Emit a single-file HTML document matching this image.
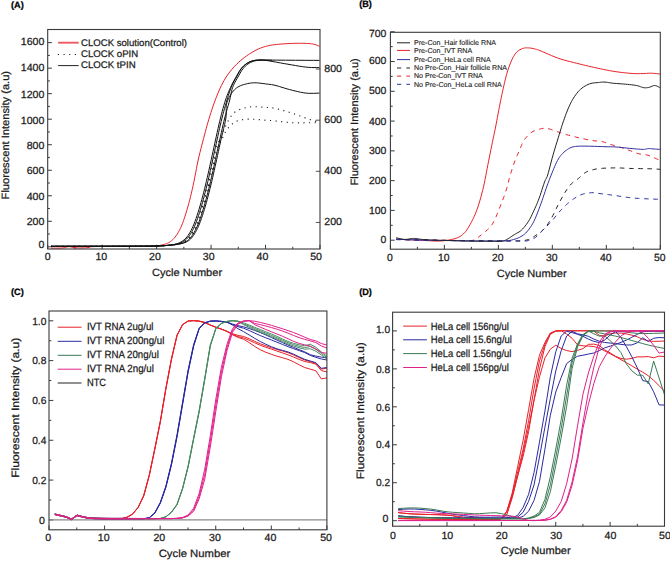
<!DOCTYPE html>
<html><head><meta charset="utf-8"><style>
html,body{margin:0;padding:0;background:#fff;width:670px;height:561px;overflow:hidden}
svg{display:block}
text{text-rendering:geometricPrecision;font-family:"Liberation Sans", sans-serif;stroke:#222;stroke-width:0.25px;paint-order:stroke}
</style></head><body>
<svg width="670" height="561" viewBox="0 0 670 561">
<rect width="670" height="561" fill="#fff"/>
<text x="11.0" y="7.6" font-size="9.2" text-anchor="start" font-weight="bold" fill="#000" textLength="12.8" lengthAdjust="spacingAndGlyphs">(A)</text>
<line x1="47.7" y1="246.8" x2="51.900000000000006" y2="246.8" stroke="#3a3a3a" stroke-width="1"/>
<text x="44.4" y="247.8" font-size="10.4" text-anchor="end" font-weight="normal" fill="#1a1a1a" textLength="5.9" lengthAdjust="spacingAndGlyphs">0</text>
<line x1="47.7" y1="221.28" x2="51.900000000000006" y2="221.28" stroke="#3a3a3a" stroke-width="1"/>
<text x="44.4" y="224.6" font-size="10.4" text-anchor="end" font-weight="normal" fill="#1a1a1a" textLength="17.700000000000003" lengthAdjust="spacingAndGlyphs">200</text>
<line x1="47.7" y1="195.76000000000002" x2="51.900000000000006" y2="195.76000000000002" stroke="#3a3a3a" stroke-width="1"/>
<text x="44.4" y="199.8" font-size="10.4" text-anchor="end" font-weight="normal" fill="#1a1a1a" textLength="17.700000000000003" lengthAdjust="spacingAndGlyphs">400</text>
<line x1="47.7" y1="170.24" x2="51.900000000000006" y2="170.24" stroke="#3a3a3a" stroke-width="1"/>
<text x="44.4" y="173.9" font-size="10.4" text-anchor="end" font-weight="normal" fill="#1a1a1a" textLength="17.700000000000003" lengthAdjust="spacingAndGlyphs">600</text>
<line x1="47.7" y1="144.72000000000003" x2="51.900000000000006" y2="144.72000000000003" stroke="#3a3a3a" stroke-width="1"/>
<text x="44.4" y="148.5" font-size="10.4" text-anchor="end" font-weight="normal" fill="#1a1a1a" textLength="17.700000000000003" lengthAdjust="spacingAndGlyphs">800</text>
<line x1="47.7" y1="119.20000000000002" x2="51.900000000000006" y2="119.20000000000002" stroke="#3a3a3a" stroke-width="1"/>
<text x="44.4" y="123.5" font-size="10.4" text-anchor="end" font-weight="normal" fill="#1a1a1a" textLength="23.6" lengthAdjust="spacingAndGlyphs">1000</text>
<line x1="47.7" y1="93.68000000000004" x2="51.900000000000006" y2="93.68000000000004" stroke="#3a3a3a" stroke-width="1"/>
<text x="44.4" y="97.8" font-size="10.4" text-anchor="end" font-weight="normal" fill="#1a1a1a" textLength="23.6" lengthAdjust="spacingAndGlyphs">1200</text>
<line x1="47.7" y1="68.16000000000003" x2="51.900000000000006" y2="68.16000000000003" stroke="#3a3a3a" stroke-width="1"/>
<text x="44.4" y="71.2" font-size="10.4" text-anchor="end" font-weight="normal" fill="#1a1a1a" textLength="23.6" lengthAdjust="spacingAndGlyphs">1400</text>
<line x1="47.7" y1="42.640000000000015" x2="51.900000000000006" y2="42.640000000000015" stroke="#3a3a3a" stroke-width="1"/>
<text x="44.4" y="44.9" font-size="10.4" text-anchor="end" font-weight="normal" fill="#1a1a1a" textLength="23.6" lengthAdjust="spacingAndGlyphs">1600</text>
<line x1="47.7" y1="234.04000000000002" x2="49.900000000000006" y2="234.04000000000002" stroke="#3a3a3a" stroke-width="1"/>
<line x1="47.7" y1="208.52" x2="49.900000000000006" y2="208.52" stroke="#3a3a3a" stroke-width="1"/>
<line x1="47.7" y1="183.0" x2="49.900000000000006" y2="183.0" stroke="#3a3a3a" stroke-width="1"/>
<line x1="47.7" y1="157.48000000000002" x2="49.900000000000006" y2="157.48000000000002" stroke="#3a3a3a" stroke-width="1"/>
<line x1="47.7" y1="131.96000000000004" x2="49.900000000000006" y2="131.96000000000004" stroke="#3a3a3a" stroke-width="1"/>
<line x1="47.7" y1="106.44000000000003" x2="49.900000000000006" y2="106.44000000000003" stroke="#3a3a3a" stroke-width="1"/>
<line x1="47.7" y1="80.92000000000002" x2="49.900000000000006" y2="80.92000000000002" stroke="#3a3a3a" stroke-width="1"/>
<line x1="47.7" y1="55.400000000000034" x2="49.900000000000006" y2="55.400000000000034" stroke="#3a3a3a" stroke-width="1"/>
<line x1="47.7" y1="249.0" x2="47.7" y2="244.8" stroke="#3a3a3a" stroke-width="1"/>
<text x="47.6" y="259.9" font-size="10.4" text-anchor="middle" font-weight="normal" fill="#1a1a1a" textLength="5.9" lengthAdjust="spacingAndGlyphs">0</text>
<line x1="102.16" y1="249.0" x2="102.16" y2="244.8" stroke="#3a3a3a" stroke-width="1"/>
<text x="101.30000000000001" y="259.9" font-size="10.4" text-anchor="middle" font-weight="normal" fill="#1a1a1a" textLength="11.8" lengthAdjust="spacingAndGlyphs">10</text>
<line x1="156.62" y1="249.0" x2="156.62" y2="244.8" stroke="#3a3a3a" stroke-width="1"/>
<text x="155.0" y="259.9" font-size="10.4" text-anchor="middle" font-weight="normal" fill="#1a1a1a" textLength="11.8" lengthAdjust="spacingAndGlyphs">20</text>
<line x1="211.07999999999998" y1="249.0" x2="211.07999999999998" y2="244.8" stroke="#3a3a3a" stroke-width="1"/>
<text x="208.7" y="259.9" font-size="10.4" text-anchor="middle" font-weight="normal" fill="#1a1a1a" textLength="11.8" lengthAdjust="spacingAndGlyphs">30</text>
<line x1="265.54" y1="249.0" x2="265.54" y2="244.8" stroke="#3a3a3a" stroke-width="1"/>
<text x="262.40000000000003" y="259.9" font-size="10.4" text-anchor="middle" font-weight="normal" fill="#1a1a1a" textLength="11.8" lengthAdjust="spacingAndGlyphs">40</text>
<line x1="320.0" y1="249.0" x2="320.0" y2="244.8" stroke="#3a3a3a" stroke-width="1"/>
<text x="316.1" y="259.9" font-size="10.4" text-anchor="middle" font-weight="normal" fill="#1a1a1a" textLength="11.8" lengthAdjust="spacingAndGlyphs">50</text>
<line x1="74.93" y1="249.0" x2="74.93" y2="246.8" stroke="#3a3a3a" stroke-width="1"/>
<line x1="129.39" y1="249.0" x2="129.39" y2="246.8" stroke="#3a3a3a" stroke-width="1"/>
<line x1="183.85000000000002" y1="249.0" x2="183.85000000000002" y2="246.8" stroke="#3a3a3a" stroke-width="1"/>
<line x1="238.31" y1="249.0" x2="238.31" y2="246.8" stroke="#3a3a3a" stroke-width="1"/>
<line x1="292.77" y1="249.0" x2="292.77" y2="246.8" stroke="#3a3a3a" stroke-width="1"/>
<line x1="320.0" y1="222.46000000000004" x2="315.8" y2="222.46000000000004" stroke="#555" stroke-width="1"/>
<text x="324.3" y="225.06000000000003" font-size="10.4" text-anchor="start" font-weight="normal" fill="#1a1a1a" textLength="17.7" lengthAdjust="spacingAndGlyphs">200</text>
<line x1="320.0" y1="171.32000000000005" x2="315.8" y2="171.32000000000005" stroke="#555" stroke-width="1"/>
<text x="324.3" y="173.92000000000004" font-size="10.4" text-anchor="start" font-weight="normal" fill="#1a1a1a" textLength="17.7" lengthAdjust="spacingAndGlyphs">400</text>
<line x1="320.0" y1="120.18000000000004" x2="315.8" y2="120.18000000000004" stroke="#555" stroke-width="1"/>
<text x="324.3" y="122.78000000000003" font-size="10.4" text-anchor="start" font-weight="normal" fill="#1a1a1a" textLength="17.7" lengthAdjust="spacingAndGlyphs">600</text>
<line x1="320.0" y1="69.04000000000005" x2="315.8" y2="69.04000000000005" stroke="#555" stroke-width="1"/>
<text x="324.3" y="71.64000000000004" font-size="10.4" text-anchor="start" font-weight="normal" fill="#1a1a1a" textLength="17.7" lengthAdjust="spacingAndGlyphs">800</text>
<text x="152.0" y="276.3" font-size="10.5" text-anchor="start" font-weight="normal" fill="#1a1a1a" textLength="70.1" lengthAdjust="spacingAndGlyphs">Cycle Number</text>
<text x="8.7" y="199.4" font-size="10.6" text-anchor="start" font-weight="normal" fill="#1a1a1a" textLength="128.5" lengthAdjust="spacingAndGlyphs" transform="rotate(-90 8.7 199.4)">Fluorescent Intensity (a.u)</text>
<line x1="58.1" y1="42.7" x2="78.7" y2="42.7" stroke="#ee5a66" stroke-width="1.9"/>
<line x1="57.8" y1="54.5" x2="78.7" y2="54.5" stroke="#222" stroke-width="1.2" stroke-dasharray="1.2 4.47"/>
<line x1="58.1" y1="65.6" x2="78.7" y2="65.6" stroke="#222" stroke-width="1"/>
<text x="81.0" y="45.6" font-size="9.6" text-anchor="start" font-weight="normal" fill="#1a1a1a" textLength="106" lengthAdjust="spacingAndGlyphs">CLOCK solution(Control)</text>
<text x="81.0" y="56.9" font-size="9.6" text-anchor="start" font-weight="normal" fill="#1a1a1a" textLength="57.2" lengthAdjust="spacingAndGlyphs">CLOCK oPIN</text>
<text x="81.0" y="68.1" font-size="9.6" text-anchor="start" font-weight="normal" fill="#1a1a1a" textLength="54.6" lengthAdjust="spacingAndGlyphs">CLOCK tPIN</text>
<path d="M51.00,248.10 L51.77,248.10 L52.85,248.11 L54.12,248.12 L55.48,248.12 L56.81,248.12 L58.00,248.10 L59.07,248.08 L60.11,248.05 L61.12,248.02 L62.11,247.97 L63.07,247.90 L64.00,247.80 L64.88,247.64 L65.70,247.41 L66.50,247.17 L67.30,246.94 L68.12,246.77 L69.00,246.70 L69.93,246.75 L70.89,246.91 L71.88,247.12 L72.89,247.35 L73.93,247.56 L75.00,247.70 L76.11,247.79 L77.26,247.85 L78.44,247.89 L79.63,247.91 L80.82,247.91 L82.00,247.90 L83.19,247.87 L84.41,247.83 L85.62,247.77 L86.81,247.69 L87.95,247.60 L89.00,247.50 L89.47,247.37 L89.30,247.21 L89.06,247.03 L89.37,246.86 L90.82,246.71 L94.00,246.60 L99.69,246.54 L107.56,246.51 L116.56,246.51 L125.67,246.51 L133.83,246.51 L140.00,246.50 L144.04,246.48 L146.74,246.45 L148.50,246.43 L149.70,246.39 L150.74,246.35 L152.00,246.30 L153.36,246.24 L154.48,246.18 L155.44,246.11 L156.30,246.03 L157.13,245.93 L158.00,245.80 L158.89,245.65 L159.72,245.47 L160.53,245.28 L161.33,245.07 L162.15,244.84 L163.00,244.60 L163.88,244.38 L164.76,244.19 L165.66,243.97 L166.57,243.70 L167.52,243.33 L168.50,242.80 L169.53,242.15 L170.60,241.41 L171.69,240.58 L172.80,239.61 L173.91,238.49 L175.00,237.20 L176.07,235.77 L177.14,234.24 L178.21,232.55 L179.27,230.67 L180.33,228.57 L181.40,226.20 L182.48,223.50 L183.57,220.49 L184.67,217.25 L185.75,213.87 L186.80,210.42 L187.80,207.00 L188.75,203.61 L189.66,200.19 L190.53,196.70 L191.39,193.13 L192.24,189.44 L193.10,185.60 L193.96,181.53 L194.80,177.23 L195.64,172.81 L196.49,168.39 L197.33,164.08 L198.20,160.00 L199.08,156.14 L199.98,152.42 L200.89,148.81 L201.80,145.28 L202.70,141.82 L203.60,138.40 L204.48,135.05 L205.33,131.79 L206.19,128.60 L207.06,125.44 L207.95,122.28 L208.90,119.10 L209.89,115.87 L210.91,112.61 L211.96,109.36 L213.04,106.14 L214.16,102.98 L215.30,99.90 L216.47,96.88 L217.68,93.89 L218.91,90.96 L220.18,88.11 L221.47,85.38 L222.80,82.80 L224.15,80.38 L225.51,78.10 L226.90,75.94 L228.34,73.87 L229.83,71.87 L231.40,69.90 L233.04,67.98 L234.73,66.12 L236.49,64.33 L238.30,62.60 L240.17,60.92 L242.10,59.30 L244.14,57.70 L246.29,56.13 L248.50,54.61 L250.71,53.17 L252.86,51.86 L254.90,50.70 L256.80,49.71 L258.62,48.86 L260.38,48.13 L262.11,47.50 L263.84,46.93 L265.60,46.40 L267.32,45.94 L268.97,45.56 L270.61,45.25 L272.33,44.99 L274.20,44.74 L276.30,44.50 L278.70,44.26 L281.37,44.03 L284.18,43.83 L287.03,43.66 L289.81,43.51 L292.40,43.40 L294.85,43.33 L297.26,43.29 L299.60,43.28 L301.83,43.30 L303.90,43.34 L305.80,43.40 L307.49,43.47 L308.99,43.56 L310.34,43.67 L311.58,43.81 L312.76,43.98 L313.90,44.20 L315.04,44.50 L316.16,44.88 L317.21,45.30 L318.14,45.71 L318.92,46.06 L319.50,46.30" fill="none" stroke="#e8202a" stroke-width="1.0" stroke-linejoin="round"/>
<path d="M51.00,246.30 L58.96,246.29 L70.33,246.27 L83.62,246.26 L97.33,246.24 L109.96,246.22 L120.00,246.20 L127.43,246.19 L133.44,246.18 L138.38,246.17 L142.56,246.16 L146.32,246.14 L150.00,246.10 L153.43,246.05 L156.30,246.00 L158.75,245.93 L160.93,245.85 L162.96,245.74 L165.00,245.60 L166.99,245.43 L168.81,245.25 L170.50,245.04 L172.07,244.80 L173.56,244.52 L175.00,244.20 L176.35,243.85 L177.59,243.49 L178.75,243.08 L179.85,242.61 L180.93,242.06 L182.00,241.40 L183.06,240.66 L184.07,239.87 L185.06,238.99 L186.04,238.00 L187.01,236.84 L188.00,235.50 L189.00,233.98 L190.00,232.32 L191.00,230.51 L192.00,228.52 L193.00,226.36 L194.00,224.00 L195.01,221.41 L196.02,218.59 L197.03,215.59 L198.04,212.46 L199.03,209.25 L200.00,206.00 L200.95,202.69 L201.89,199.26 L202.81,195.75 L203.72,192.19 L204.62,188.59 L205.50,185.00 L206.36,181.40 L207.20,177.78 L208.03,174.12 L208.85,170.44 L209.67,166.74 L210.50,163.00 L211.33,159.21 L212.17,155.37 L213.00,151.50 L213.83,147.63 L214.67,143.79 L215.50,140.00 L216.33,136.23 L217.17,132.44 L218.00,128.69 L218.83,125.00 L219.67,121.42 L220.50,118.00 L221.33,114.70 L222.17,111.50 L223.00,108.41 L223.83,105.44 L224.67,102.64 L225.50,100.00 L226.33,97.58 L227.15,95.35 L227.97,93.28 L228.80,91.31 L229.64,89.40 L230.50,87.50 L231.38,85.62 L232.28,83.81 L233.19,82.06 L234.11,80.35 L235.05,78.67 L236.00,77.00 L236.95,75.31 L237.89,73.62 L238.84,71.95 L239.83,70.35 L240.88,68.85 L242.00,67.50 L243.21,66.28 L244.48,65.17 L245.81,64.17 L247.19,63.27 L248.59,62.48 L250.00,61.80 L251.42,61.25 L252.85,60.84 L254.31,60.54 L255.81,60.31 L257.37,60.14 L259.00,60.00 L260.27,59.90 L261.09,59.89 L261.97,59.92 L263.41,59.98 L265.92,60.05 L270.00,60.10 L276.59,60.14 L285.48,60.20 L295.44,60.26 L305.24,60.31 L313.67,60.37 L319.50,60.40" fill="none" stroke="#111" stroke-width="1.0" stroke-linejoin="round"/>
<path d="M51.00,246.30 L58.96,246.29 L70.33,246.27 L83.62,246.26 L97.33,246.24 L109.96,246.22 L120.00,246.20 L127.43,246.19 L133.44,246.18 L138.38,246.17 L142.56,246.16 L146.32,246.14 L150.00,246.10 L153.41,246.05 L156.26,246.00 L158.69,245.93 L160.85,245.85 L162.91,245.74 L165.00,245.60 L167.11,245.43 L169.09,245.25 L170.97,245.04 L172.74,244.80 L174.42,244.52 L176.00,244.20 L177.47,243.85 L178.81,243.49 L180.06,243.08 L181.24,242.61 L182.38,242.06 L183.50,241.40 L184.59,240.66 L185.61,239.87 L186.59,238.99 L187.56,238.00 L188.52,236.84 L189.50,235.50 L190.50,233.98 L191.50,232.32 L192.50,230.51 L193.50,228.52 L194.50,226.36 L195.50,224.00 L196.51,221.41 L197.52,218.59 L198.53,215.59 L199.54,212.46 L200.53,209.25 L201.50,206.00 L202.45,202.69 L203.39,199.26 L204.31,195.75 L205.22,192.19 L206.12,188.59 L207.00,185.00 L207.86,181.40 L208.70,177.78 L209.53,174.12 L210.35,170.44 L211.17,166.74 L212.00,163.00 L212.83,159.21 L213.67,155.37 L214.50,151.50 L215.33,147.63 L216.17,143.79 L217.00,140.00 L217.83,136.23 L218.67,132.44 L219.50,128.69 L220.33,125.00 L221.17,121.42 L222.00,118.00 L222.84,114.71 L223.69,111.52 L224.54,108.44 L225.39,105.48 L226.21,102.66 L227.00,100.00 L227.74,97.52 L228.44,95.20 L229.12,93.03 L229.80,90.96 L230.52,88.96 L231.30,87.00 L232.14,85.09 L233.03,83.28 L233.94,81.53 L234.89,79.83 L235.84,78.16 L236.80,76.50 L237.75,74.81 L238.68,73.12 L239.63,71.45 L240.62,69.85 L241.67,68.35 L242.80,67.00 L244.00,65.78 L245.24,64.65 L246.54,63.63 L247.92,62.73 L249.40,61.95 L251.00,61.30 L252.65,60.79 L254.31,60.39 L256.07,60.12 L258.01,59.99 L260.23,59.98 L262.80,60.10 L265.82,60.41 L269.25,60.92 L272.94,61.56 L276.77,62.26 L280.60,62.96 L284.30,63.60 L287.97,64.22 L291.76,64.88 L295.54,65.54 L299.21,66.16 L302.67,66.69 L305.80,67.10 L308.69,67.36 L311.45,67.51 L313.99,67.57 L316.24,67.58 L318.10,67.58 L319.50,67.60" fill="none" stroke="#111" stroke-width="1.0" stroke-linejoin="round"/>
<path d="M51.00,246.30 L58.96,246.29 L70.33,246.27 L83.62,246.26 L97.33,246.24 L109.96,246.22 L120.00,246.20 L127.43,246.19 L133.44,246.18 L138.38,246.17 L142.56,246.16 L146.32,246.14 L150.00,246.10 L153.39,246.05 L156.19,246.00 L158.58,245.93 L160.72,245.85 L162.80,245.74 L165.00,245.60 L167.31,245.43 L169.59,245.25 L171.81,245.04 L173.94,244.80 L175.95,244.52 L177.80,244.20 L179.48,243.85 L181.01,243.49 L182.43,243.08 L183.74,242.61 L184.99,242.06 L186.20,241.40 L187.34,240.66 L188.38,239.87 L189.35,238.99 L190.29,238.00 L191.23,236.84 L192.20,235.50 L193.20,233.98 L194.20,232.32 L195.20,230.51 L196.20,228.52 L197.20,226.36 L198.20,224.00 L199.21,221.41 L200.22,218.59 L201.23,215.59 L202.24,212.46 L203.23,209.25 L204.20,206.00 L205.15,202.69 L206.09,199.26 L207.01,195.75 L207.92,192.19 L208.82,188.59 L209.70,185.00 L210.56,181.40 L211.40,177.78 L212.23,174.12 L213.05,170.44 L213.87,166.74 L214.70,163.00 L215.53,159.21 L216.37,155.37 L217.20,151.50 L218.03,147.63 L218.87,143.79 L219.70,140.00 L220.53,136.23 L221.37,132.44 L222.20,128.69 L223.03,125.00 L223.87,121.42 L224.70,118.00 L225.56,114.70 L226.44,111.50 L227.33,108.41 L228.19,105.44 L228.99,102.64 L229.70,100.00 L230.28,97.58 L230.73,95.35 L231.12,93.28 L231.53,91.31 L232.00,89.40 L232.60,87.50 L233.35,85.62 L234.19,83.81 L235.11,82.06 L236.06,80.35 L237.04,78.67 L238.00,77.00 L238.94,75.31 L239.88,73.62 L240.84,71.95 L241.83,70.35 L242.88,68.85 L244.00,67.50 L245.21,66.28 L246.48,65.17 L247.81,64.16 L249.19,63.26 L250.59,62.47 L252.00,61.80 L253.42,61.28 L254.85,60.90 L256.31,60.64 L257.81,60.46 L259.37,60.32 L261.00,60.20 L262.84,60.12 L264.93,60.11 L267.06,60.15 L269.07,60.21 L270.78,60.27 L272.00,60.30" fill="none" stroke="#111" stroke-width="1.0" stroke-linejoin="round"/>
<path d="M51.00,246.30 L58.96,246.29 L70.33,246.27 L83.62,246.26 L97.33,246.24 L109.96,246.22 L120.00,246.20 L127.43,246.19 L133.44,246.18 L138.38,246.17 L142.56,246.16 L146.32,246.14 L150.00,246.10 L153.38,246.05 L156.16,246.00 L158.53,245.93 L160.66,245.85 L162.75,245.74 L165.00,245.60 L167.40,245.43 L169.81,245.25 L172.19,245.04 L174.47,244.80 L176.63,244.52 L178.60,244.20 L180.38,243.85 L181.99,243.49 L183.47,243.08 L184.85,242.61 L186.15,242.06 L187.40,241.40 L188.56,240.66 L189.61,239.87 L190.58,238.99 L191.50,238.00 L192.43,236.84 L193.40,235.50 L194.40,233.98 L195.40,232.32 L196.40,230.51 L197.40,228.52 L198.40,226.36 L199.40,224.00 L200.41,221.41 L201.42,218.59 L202.43,215.59 L203.44,212.46 L204.43,209.25 L205.40,206.00 L206.35,202.69 L207.29,199.26 L208.21,195.75 L209.12,192.19 L210.02,188.59 L210.90,185.00 L211.76,181.40 L212.60,177.78 L213.43,174.12 L214.25,170.44 L215.07,166.74 L215.90,163.00 L216.73,159.21 L217.57,155.37 L218.40,151.50 L219.23,147.63 L220.07,143.79 L220.90,140.00 L221.78,136.18 L222.73,132.29 L223.67,128.42 L224.56,124.69 L225.32,121.18 L225.90,118.00 L226.20,115.19 L226.27,112.68 L226.21,110.39 L226.14,108.27 L226.20,106.23 L226.50,104.20 L227.05,102.19 L227.76,100.24 L228.59,98.39 L229.50,96.63 L230.45,95.00 L231.40,93.50 L232.36,92.15 L233.34,90.93 L234.38,89.83 L235.46,88.84 L236.59,87.93 L237.80,87.10 L239.09,86.36 L240.47,85.72 L241.91,85.17 L243.38,84.69 L244.85,84.27 L246.30,83.90 L247.70,83.57 L249.08,83.30 L250.46,83.08 L251.87,82.93 L253.34,82.83 L254.90,82.80 L256.58,82.85 L258.36,82.99 L260.20,83.19 L262.05,83.43 L263.87,83.67 L265.60,83.90 L267.18,84.08 L268.63,84.24 L270.05,84.40 L271.52,84.61 L273.14,84.90 L275.00,85.30 L277.13,85.86 L279.46,86.55 L281.93,87.32 L284.50,88.12 L287.11,88.90 L289.70,89.60 L292.33,90.27 L295.05,90.96 L297.81,91.62 L300.56,92.22 L303.24,92.73 L305.80,93.10 L308.38,93.30 L311.05,93.36 L313.66,93.32 L316.04,93.23 L318.04,93.14 L319.50,93.10" fill="none" stroke="#111" stroke-width="1.0" stroke-linejoin="round"/>
<path d="M51.00,246.30 L58.96,246.29 L70.33,246.27 L83.62,246.26 L97.33,246.24 L109.96,246.22 L120.00,246.20 L127.43,246.19 L133.44,246.18 L138.38,246.17 L142.56,246.16 L146.32,246.14 L150.00,246.10 L153.41,246.05 L156.23,246.00 L158.65,245.93 L160.80,245.85 L162.87,245.74 L165.00,245.60 L167.18,245.43 L169.28,245.25 L171.28,245.04 L173.19,244.80 L174.98,244.52 L176.67,244.20 L178.22,243.85 L179.63,243.49 L180.94,243.08 L182.17,242.61 L183.34,242.06 L184.50,241.40 L185.61,240.66 L186.64,239.87 L187.61,238.99 L188.57,238.00 L189.52,236.84 L190.50,235.50 L191.50,233.98 L192.50,232.32 L193.50,230.51 L194.50,228.52 L195.50,226.36 L196.50,224.00 L197.51,221.41 L198.52,218.59 L199.53,215.59 L200.54,212.46 L201.53,209.25 L202.50,206.00 L203.45,202.69 L204.39,199.26 L205.31,195.75 L206.22,192.19 L207.12,188.59 L208.00,185.00 L208.89,181.29 L209.80,177.41 L210.69,173.50 L211.54,169.70 L212.32,166.16 L213.00,163.00 L213.54,160.28 L213.96,157.89 L214.31,155.75 L214.65,153.78 L215.03,151.89 L215.50,150.00 L216.09,148.12 L216.76,146.33 L217.47,144.62 L218.19,143.00 L218.87,141.46 L219.50,140.00 L220.05,138.67 L220.56,137.46 L221.03,136.34 L221.50,135.26 L221.98,134.16 L222.50,133.00 L223.05,131.78 L223.62,130.54 L224.20,129.28 L224.79,128.02 L225.39,126.76 L226.00,125.50 L226.60,124.23 L227.19,122.94 L227.79,121.66 L228.42,120.39 L229.08,119.16 L229.80,118.00 L230.55,116.89 L231.32,115.80 L232.12,114.76 L232.99,113.77 L233.94,112.84 L235.00,112.00 L236.18,111.24 L237.46,110.55 L238.82,109.93 L240.25,109.37 L241.72,108.86 L243.20,108.40 L244.68,107.98 L246.18,107.60 L247.71,107.28 L249.31,107.02 L251.00,106.82 L252.80,106.70 L254.79,106.67 L256.96,106.74 L259.21,106.88 L261.47,107.06 L263.63,107.24 L265.60,107.40 L267.27,107.50 L268.69,107.57 L270.01,107.64 L271.40,107.77 L273.01,108.00 L275.00,108.40 L277.42,108.97 L280.16,109.68 L283.11,110.49 L286.20,111.39 L289.33,112.33 L292.40,113.30 L295.58,114.37 L298.97,115.57 L302.40,116.83 L305.70,118.05 L308.69,119.13 L311.20,120.00 L313.23,120.63 L314.90,121.09 L316.28,121.42 L317.39,121.66 L318.28,121.84 L319.00,122.00" fill="none" stroke="#111" stroke-width="1.1" stroke-dasharray="1.1 4.5" stroke-linejoin="round"/>
<path d="M51.00,246.30 L58.96,246.29 L70.33,246.27 L83.62,246.26 L97.33,246.24 L109.96,246.22 L120.00,246.20 L127.43,246.19 L133.44,246.18 L138.38,246.17 L142.56,246.16 L146.32,246.14 L150.00,246.10 L153.40,246.05 L156.21,246.00 L158.61,245.93 L160.76,245.85 L162.84,245.74 L165.00,245.60 L167.24,245.43 L169.43,245.25 L171.53,245.04 L173.54,244.80 L175.44,244.52 L177.20,244.20 L178.81,243.85 L180.28,243.49 L181.64,243.08 L182.91,242.61 L184.12,242.06 L185.30,241.40 L186.42,240.66 L187.46,239.87 L188.43,238.99 L189.38,238.00 L190.32,236.84 L191.30,235.50 L192.30,233.98 L193.30,232.32 L194.30,230.51 L195.30,228.52 L196.30,226.36 L197.30,224.00 L198.31,221.41 L199.32,218.59 L200.33,215.59 L201.34,212.46 L202.33,209.25 L203.30,206.00 L204.25,202.69 L205.19,199.26 L206.11,195.75 L207.02,192.19 L207.92,188.59 L208.80,185.00 L209.69,181.28 L210.59,177.37 L211.48,173.44 L212.32,169.63 L213.11,166.10 L213.80,163.00 L214.37,160.39 L214.82,158.15 L215.21,156.19 L215.59,154.41 L216.00,152.71 L216.50,151.00 L217.10,149.29 L217.77,147.67 L218.48,146.12 L219.19,144.67 L219.87,143.29 L220.50,142.00 L221.07,140.82 L221.62,139.76 L222.14,138.78 L222.64,137.84 L223.12,136.93 L223.60,136.00 L224.05,135.05 L224.47,134.12 L224.87,133.20 L225.28,132.30 L225.71,131.44 L226.20,130.60 L226.72,129.81 L227.27,129.05 L227.84,128.32 L228.44,127.61 L229.10,126.91 L229.80,126.20 L230.56,125.46 L231.39,124.70 L232.25,123.95 L233.15,123.23 L234.07,122.57 L235.00,122.00 L235.91,121.53 L236.81,121.13 L237.73,120.79 L238.70,120.50 L239.78,120.24 L241.00,120.00 L242.33,119.76 L243.73,119.54 L245.24,119.36 L246.87,119.21 L248.65,119.12 L250.60,119.10 L252.85,119.17 L255.41,119.33 L258.11,119.55 L260.81,119.79 L263.36,120.02 L265.60,120.20 L267.40,120.33 L268.85,120.42 L270.15,120.51 L271.48,120.60 L273.04,120.72 L275.00,120.90 L277.39,121.16 L280.06,121.49 L282.94,121.84 L286.00,122.19 L289.17,122.49 L292.40,122.70 L295.94,122.81 L299.87,122.84 L303.92,122.83 L307.80,122.78 L311.22,122.73 L313.90,122.70 L315.76,122.68 L317.00,122.64 L317.79,122.60 L318.29,122.56 L318.63,122.52 L319.00,122.50" fill="none" stroke="#111" stroke-width="1.1" stroke-dasharray="1.1 4.5" stroke-linejoin="round"/>
<rect x="47.7" y="29.5" width="272.3" height="219.5" fill="none" stroke="#3a3a3a" stroke-width="1.1"/>
<text x="359.2" y="7.0" font-size="9.2" text-anchor="start" font-weight="bold" fill="#000" textLength="12.7" lengthAdjust="spacingAndGlyphs">(B)</text>
<line x1="390.4" y1="240.2" x2="394.7" y2="240.2" stroke="#3a3a3a" stroke-width="1"/>
<text x="386.3" y="242.8" font-size="10.4" text-anchor="end" font-weight="normal" fill="#1a1a1a" textLength="5.8" lengthAdjust="spacingAndGlyphs">0</text>
<line x1="390.4" y1="210.42" x2="394.7" y2="210.42" stroke="#3a3a3a" stroke-width="1"/>
<text x="386.3" y="213.6" font-size="10.4" text-anchor="end" font-weight="normal" fill="#1a1a1a" textLength="17.4" lengthAdjust="spacingAndGlyphs">100</text>
<line x1="390.4" y1="180.64" x2="394.7" y2="180.64" stroke="#3a3a3a" stroke-width="1"/>
<text x="386.3" y="184.0" font-size="10.4" text-anchor="end" font-weight="normal" fill="#1a1a1a" textLength="17.4" lengthAdjust="spacingAndGlyphs">200</text>
<line x1="390.4" y1="150.85999999999999" x2="394.7" y2="150.85999999999999" stroke="#3a3a3a" stroke-width="1"/>
<text x="386.3" y="154.2" font-size="10.4" text-anchor="end" font-weight="normal" fill="#1a1a1a" textLength="17.4" lengthAdjust="spacingAndGlyphs">300</text>
<line x1="390.4" y1="121.07999999999998" x2="394.7" y2="121.07999999999998" stroke="#3a3a3a" stroke-width="1"/>
<text x="386.3" y="124.6" font-size="10.4" text-anchor="end" font-weight="normal" fill="#1a1a1a" textLength="17.4" lengthAdjust="spacingAndGlyphs">400</text>
<line x1="390.4" y1="91.29999999999998" x2="394.7" y2="91.29999999999998" stroke="#3a3a3a" stroke-width="1"/>
<text x="386.3" y="94.0" font-size="10.4" text-anchor="end" font-weight="normal" fill="#1a1a1a" textLength="17.4" lengthAdjust="spacingAndGlyphs">500</text>
<line x1="390.4" y1="61.51999999999998" x2="394.7" y2="61.51999999999998" stroke="#3a3a3a" stroke-width="1"/>
<text x="386.3" y="64.3" font-size="10.4" text-anchor="end" font-weight="normal" fill="#1a1a1a" textLength="17.4" lengthAdjust="spacingAndGlyphs">600</text>
<line x1="390.4" y1="31.73999999999998" x2="394.7" y2="31.73999999999998" stroke="#3a3a3a" stroke-width="1"/>
<text x="386.3" y="36.6" font-size="10.4" text-anchor="end" font-weight="normal" fill="#1a1a1a" textLength="17.4" lengthAdjust="spacingAndGlyphs">700</text>
<line x1="390.4" y1="225.31" x2="392.7" y2="225.31" stroke="#3a3a3a" stroke-width="1"/>
<line x1="390.4" y1="195.52999999999997" x2="392.7" y2="195.52999999999997" stroke="#3a3a3a" stroke-width="1"/>
<line x1="390.4" y1="165.75" x2="392.7" y2="165.75" stroke="#3a3a3a" stroke-width="1"/>
<line x1="390.4" y1="135.96999999999997" x2="392.7" y2="135.96999999999997" stroke="#3a3a3a" stroke-width="1"/>
<line x1="390.4" y1="106.19" x2="392.7" y2="106.19" stroke="#3a3a3a" stroke-width="1"/>
<line x1="390.4" y1="76.41" x2="392.7" y2="76.41" stroke="#3a3a3a" stroke-width="1"/>
<line x1="390.4" y1="46.629999999999995" x2="392.7" y2="46.629999999999995" stroke="#3a3a3a" stroke-width="1"/>
<line x1="390.4" y1="249.2" x2="390.4" y2="244.89999999999998" stroke="#3a3a3a" stroke-width="1"/>
<text x="389.79999999999995" y="260.9" font-size="10.4" text-anchor="middle" font-weight="normal" fill="#1a1a1a" textLength="5.8" lengthAdjust="spacingAndGlyphs">0</text>
<line x1="444.38" y1="249.2" x2="444.38" y2="244.89999999999998" stroke="#3a3a3a" stroke-width="1"/>
<text x="443.78" y="260.9" font-size="10.4" text-anchor="middle" font-weight="normal" fill="#1a1a1a" textLength="11.6" lengthAdjust="spacingAndGlyphs">10</text>
<line x1="498.35999999999996" y1="249.2" x2="498.35999999999996" y2="244.89999999999998" stroke="#3a3a3a" stroke-width="1"/>
<text x="497.75999999999993" y="260.9" font-size="10.4" text-anchor="middle" font-weight="normal" fill="#1a1a1a" textLength="11.6" lengthAdjust="spacingAndGlyphs">20</text>
<line x1="552.3399999999999" y1="249.2" x2="552.3399999999999" y2="244.89999999999998" stroke="#3a3a3a" stroke-width="1"/>
<text x="551.7399999999999" y="260.9" font-size="10.4" text-anchor="middle" font-weight="normal" fill="#1a1a1a" textLength="11.6" lengthAdjust="spacingAndGlyphs">30</text>
<line x1="606.3199999999999" y1="249.2" x2="606.3199999999999" y2="244.89999999999998" stroke="#3a3a3a" stroke-width="1"/>
<text x="605.7199999999999" y="260.9" font-size="10.4" text-anchor="middle" font-weight="normal" fill="#1a1a1a" textLength="11.6" lengthAdjust="spacingAndGlyphs">40</text>
<line x1="660.3" y1="249.2" x2="660.3" y2="244.89999999999998" stroke="#3a3a3a" stroke-width="1"/>
<text x="659.6999999999999" y="260.9" font-size="10.4" text-anchor="middle" font-weight="normal" fill="#1a1a1a" textLength="11.6" lengthAdjust="spacingAndGlyphs">50</text>
<line x1="417.39" y1="249.2" x2="417.39" y2="246.89999999999998" stroke="#3a3a3a" stroke-width="1"/>
<line x1="471.36999999999995" y1="249.2" x2="471.36999999999995" y2="246.89999999999998" stroke="#3a3a3a" stroke-width="1"/>
<line x1="525.3499999999999" y1="249.2" x2="525.3499999999999" y2="246.89999999999998" stroke="#3a3a3a" stroke-width="1"/>
<line x1="579.3299999999999" y1="249.2" x2="579.3299999999999" y2="246.89999999999998" stroke="#3a3a3a" stroke-width="1"/>
<line x1="633.31" y1="249.2" x2="633.31" y2="246.89999999999998" stroke="#3a3a3a" stroke-width="1"/>
<text x="496.7" y="277.3" font-size="10.5" text-anchor="start" font-weight="normal" fill="#1a1a1a" textLength="69.9" lengthAdjust="spacingAndGlyphs">Cycle Number</text>
<text x="358.2" y="185.5" font-size="10.6" text-anchor="start" font-weight="normal" fill="#1a1a1a" textLength="127.3" lengthAdjust="spacingAndGlyphs" transform="rotate(-90 358.2 185.5)">Fluorescent Intensity (a.u)</text>
<line x1="397.0" y1="42.8" x2="410.0" y2="42.8" stroke="#222" stroke-width="1.0"/>
<text x="414.0" y="45.1" font-size="7.1" text-anchor="start" font-weight="normal" fill="#1a1a1a" textLength="82.0" lengthAdjust="spacingAndGlyphs" style="stroke-width:0.12px">Pre-Con_Hair follicle RNA</text>
<line x1="397.0" y1="50.4" x2="410.0" y2="50.4" stroke="#e8202a" stroke-width="1.0"/>
<text x="414.0" y="52.7" font-size="7.1" text-anchor="start" font-weight="normal" fill="#1a1a1a" textLength="58.2" lengthAdjust="spacingAndGlyphs" style="stroke-width:0.12px">Pre-Con_IVT RNA</text>
<line x1="397.0" y1="59.6" x2="410.0" y2="59.6" stroke="#3030a0" stroke-width="1.0"/>
<text x="414.0" y="61.9" font-size="7.1" text-anchor="start" font-weight="normal" fill="#1a1a1a" textLength="76.6" lengthAdjust="spacingAndGlyphs" style="stroke-width:0.12px">Pre-Con_HeLa cell RNA</text>
<line x1="397.0" y1="68.0" x2="410.0" y2="68.0" stroke="#222" stroke-width="1.0" stroke-dasharray="4.2 5.2"/>
<text x="414.0" y="70.3" font-size="7.1" text-anchor="start" font-weight="normal" fill="#1a1a1a" textLength="93.1" lengthAdjust="spacingAndGlyphs" style="stroke-width:0.12px">No Pre-Con_Hair follicle RNA</text>
<line x1="397.0" y1="76.1" x2="410.0" y2="76.1" stroke="#e8202a" stroke-width="1.0" stroke-dasharray="4.2 5.2"/>
<text x="414.0" y="78.4" font-size="7.1" text-anchor="start" font-weight="normal" fill="#1a1a1a" textLength="68.8" lengthAdjust="spacingAndGlyphs" style="stroke-width:0.12px">No Pre-Con_IVT RNA</text>
<line x1="397.0" y1="84.3" x2="410.0" y2="84.3" stroke="#3030a0" stroke-width="1.0" stroke-dasharray="4.2 5.2"/>
<text x="414.0" y="86.7" font-size="7.1" text-anchor="start" font-weight="normal" fill="#1a1a1a" textLength="87.8" lengthAdjust="spacingAndGlyphs" style="stroke-width:0.12px">No Pre-Con_HeLa cell RNA</text>
<path d="M396.00,239.20 L397.51,239.26 L399.59,239.35 L402.06,239.46 L404.74,239.57 L407.45,239.69 L410.00,239.80 L412.47,239.91 L415.01,240.03 L417.57,240.15 L420.13,240.27 L422.62,240.39 L425.00,240.50 L427.33,240.62 L429.64,240.75 L431.89,240.88 L434.03,240.99 L436.02,241.06 L437.80,241.10 L439.35,241.08 L440.70,241.03 L441.89,240.94 L442.97,240.83 L443.99,240.71 L445.00,240.60 L445.92,240.51 L446.69,240.43 L447.39,240.34 L448.13,240.22 L448.97,240.05 L450.00,239.80 L451.28,239.49 L452.76,239.15 L454.34,238.75 L455.95,238.29 L457.50,237.74 L458.90,237.10 L460.14,236.40 L461.30,235.65 L462.39,234.82 L463.45,233.88 L464.51,232.79 L465.60,231.50 L466.73,229.99 L467.87,228.29 L469.02,226.44 L470.15,224.47 L471.25,222.45 L472.30,220.40 L473.30,218.38 L474.25,216.35 L475.17,214.26 L476.07,212.05 L476.98,209.65 L477.90,207.00 L478.85,204.06 L479.81,200.88 L480.77,197.51 L481.72,194.01 L482.64,190.45 L483.50,186.90 L484.30,183.31 L485.05,179.63 L485.77,175.89 L486.47,172.11 L487.17,168.34 L487.90,164.60 L488.66,160.80 L489.44,156.91 L490.23,153.01 L490.99,149.21 L491.72,145.61 L492.40,142.30 L493.00,139.39 L493.54,136.84 L494.05,134.48 L494.54,132.16 L495.05,129.72 L495.60,127.00 L496.18,123.98 L496.79,120.77 L497.40,117.45 L498.03,114.07 L498.66,110.70 L499.30,107.40 L499.95,104.13 L500.61,100.82 L501.28,97.53 L501.96,94.28 L502.63,91.12 L503.30,88.10 L503.96,85.21 L504.60,82.40 L505.25,79.69 L505.91,77.07 L506.59,74.54 L507.30,72.10 L508.05,69.72 L508.84,67.39 L509.65,65.16 L510.47,63.04 L511.29,61.08 L512.10,59.30 L512.88,57.72 L513.64,56.33 L514.40,55.08 L515.18,53.96 L516.01,52.94 L516.90,52.00 L517.87,51.14 L518.91,50.37 L520.00,49.71 L521.11,49.15 L522.21,48.68 L523.30,48.30 L524.37,48.03 L525.43,47.89 L526.49,47.84 L527.56,47.86 L528.63,47.92 L529.70,48.00 L530.81,48.12 L531.96,48.31 L533.11,48.55 L534.23,48.81 L535.27,49.06 L536.20,49.30 L536.82,49.44 L537.13,49.50 L537.37,49.56 L537.77,49.70 L538.56,50.02 L540.00,50.60 L542.20,51.53 L545.00,52.76 L548.20,54.17 L551.60,55.63 L555.00,57.01 L558.20,58.20 L561.23,59.19 L564.27,60.09 L567.30,60.91 L570.33,61.68 L573.37,62.44 L576.40,63.20 L579.43,63.96 L582.47,64.71 L585.50,65.43 L588.53,66.14 L591.57,66.83 L594.60,67.50 L597.63,68.17 L600.67,68.83 L603.70,69.48 L606.73,70.10 L609.77,70.68 L612.80,71.20 L615.92,71.68 L619.13,72.12 L622.35,72.52 L625.47,72.87 L628.38,73.17 L631.00,73.40 L633.27,73.56 L635.27,73.64 L637.07,73.66 L638.74,73.65 L640.36,73.62 L642.00,73.60 L643.63,73.55 L645.17,73.47 L646.67,73.36 L648.14,73.27 L649.61,73.20 L651.10,73.20 L652.72,73.27 L654.47,73.41 L656.22,73.58 L657.84,73.75 L659.21,73.90 L660.20,74.00" fill="none" stroke="#e8202a" stroke-width="1.0" stroke-linejoin="round"/>
<path d="M396.00,239.20 L398.54,239.27 L402.00,239.36 L406.12,239.47 L410.67,239.59 L415.38,239.70 L420.00,239.80 L424.81,239.89 L430.07,239.98 L435.50,240.07 L440.81,240.15 L445.74,240.23 L450.00,240.30 L453.59,240.37 L456.73,240.43 L459.48,240.49 L461.90,240.54 L464.06,240.58 L466.00,240.60 L467.64,240.61 L468.91,240.61 L469.92,240.61 L470.75,240.57 L471.51,240.51 L472.30,240.40 L473.05,240.27 L473.67,240.12 L474.22,239.94 L474.75,239.71 L475.33,239.40 L476.00,239.00 L476.74,238.52 L477.48,237.97 L478.27,237.35 L479.13,236.64 L480.10,235.83 L481.20,234.90 L482.53,233.82 L484.07,232.59 L485.73,231.25 L487.37,229.86 L488.90,228.46 L490.20,227.10 L491.25,225.79 L492.14,224.49 L492.91,223.17 L493.61,221.84 L494.29,220.45 L495.00,219.00 L495.69,217.56 L496.32,216.16 L496.93,214.71 L497.57,213.12 L498.27,211.32 L499.10,209.20 L500.10,206.67 L501.23,203.77 L502.44,200.65 L503.66,197.45 L504.80,194.32 L505.80,191.40 L506.64,188.68 L507.37,186.04 L508.04,183.46 L508.67,180.94 L509.31,178.46 L510.00,176.00 L510.73,173.56 L511.46,171.16 L512.19,168.79 L512.94,166.47 L513.71,164.20 L514.50,162.00 L515.33,159.84 L516.22,157.70 L517.12,155.62 L518.00,153.63 L518.84,151.75 L519.60,150.00 L520.26,148.41 L520.84,146.94 L521.37,145.59 L521.89,144.33 L522.42,143.14 L523.00,142.00 L523.62,140.93 L524.25,139.94 L524.90,139.03 L525.57,138.17 L526.27,137.33 L527.00,136.50 L527.76,135.67 L528.56,134.85 L529.38,134.06 L530.22,133.31 L531.10,132.62 L532.00,132.00 L532.95,131.46 L533.96,131.00 L535.00,130.59 L536.04,130.23 L537.05,129.91 L538.00,129.60 L538.89,129.31 L539.74,129.06 L540.56,128.84 L541.37,128.65 L542.18,128.51 L543.00,128.40 L543.80,128.33 L544.57,128.28 L545.33,128.27 L546.13,128.31 L547.01,128.42 L548.00,128.60 L549.09,128.87 L550.26,129.23 L551.49,129.64 L552.81,130.11 L554.21,130.60 L555.70,131.10 L557.27,131.62 L558.91,132.19 L560.64,132.78 L562.46,133.39 L564.38,134.00 L566.40,134.60 L568.56,135.20 L570.87,135.83 L573.28,136.45 L575.74,137.06 L578.19,137.65 L580.60,138.20 L583.07,138.73 L585.67,139.27 L588.26,139.77 L590.73,140.23 L592.95,140.62 L594.80,140.90 L596.14,141.02 L597.04,140.98 L597.69,140.87 L598.27,140.76 L598.98,140.75 L600.00,140.90 L601.34,141.25 L602.87,141.74 L604.52,142.32 L606.23,142.94 L607.94,143.55 L609.60,144.10 L611.21,144.60 L612.83,145.08 L614.45,145.55 L616.07,146.02 L617.69,146.50 L619.30,147.00 L620.91,147.51 L622.51,148.03 L624.11,148.56 L625.70,149.10 L627.30,149.65 L628.90,150.20 L630.50,150.79 L632.10,151.41 L633.69,152.05 L635.29,152.66 L636.89,153.22 L638.50,153.70 L640.11,154.05 L641.73,154.28 L643.35,154.46 L644.97,154.65 L646.59,154.91 L648.20,155.30 L649.89,155.88 L651.67,156.61 L653.45,157.41 L655.13,158.20 L656.61,158.89 L657.80,159.40 L658.66,159.71 L659.25,159.88 L659.65,159.96 L659.91,159.97 L660.11,159.98 L660.30,160.00" fill="none" stroke="#e8202a" stroke-width="1.0" stroke-dasharray="4.6 4.6" stroke-linejoin="round"/>
<path d="M396.00,239.50 L399.63,239.58 L404.59,239.69 L410.50,239.82 L416.96,239.96 L423.59,240.09 L430.00,240.20 L436.31,240.30 L442.86,240.39 L449.58,240.48 L456.39,240.56 L463.22,240.64 L470.00,240.70 L477.03,240.76 L484.43,240.83 L491.85,240.89 L498.94,240.93 L505.34,240.93 L510.70,240.90 L514.88,240.86 L518.13,240.81 L520.69,240.74 L522.81,240.61 L524.73,240.37 L526.70,240.00 L528.59,239.49 L530.19,238.86 L531.59,238.14 L532.90,237.33 L534.20,236.44 L535.60,235.50 L537.10,234.51 L538.63,233.46 L540.16,232.34 L541.66,231.13 L543.12,229.82 L544.50,228.40 L545.80,226.87 L547.03,225.23 L548.21,223.49 L549.37,221.66 L550.53,219.73 L551.70,217.70 L552.89,215.52 L554.07,213.16 L555.26,210.71 L556.44,208.24 L557.62,205.81 L558.80,203.50 L560.00,201.26 L561.23,199.01 L562.46,196.81 L563.66,194.70 L564.82,192.75 L565.90,191.00 L566.88,189.48 L567.76,188.17 L568.60,187.01 L569.44,185.94 L570.32,184.92 L571.30,183.90 L572.40,182.90 L573.57,181.98 L574.80,181.10 L576.04,180.24 L577.25,179.39 L578.40,178.50 L579.48,177.56 L580.51,176.57 L581.52,175.59 L582.53,174.64 L583.55,173.76 L584.60,173.00 L585.66,172.36 L586.72,171.83 L587.79,171.36 L588.90,170.95 L590.06,170.57 L591.30,170.20 L592.55,169.84 L593.78,169.51 L595.06,169.21 L596.48,168.94 L598.10,168.71 L600.00,168.50 L602.26,168.32 L604.82,168.17 L607.59,168.06 L610.47,167.97 L613.34,167.92 L616.10,167.90 L618.77,167.94 L621.44,168.03 L624.10,168.15 L626.76,168.29 L629.43,168.41 L632.10,168.50 L634.82,168.55 L637.61,168.58 L640.39,168.60 L643.13,168.62 L645.75,168.65 L648.20,168.70 L650.59,168.78 L652.98,168.89 L655.26,169.01 L657.31,169.13 L659.03,169.23 L660.30,169.30" fill="none" stroke="#222" stroke-width="1.0" stroke-dasharray="4.6 4.6" stroke-linejoin="round"/>
<path d="M396.00,239.60 L399.63,239.68 L404.59,239.79 L410.50,239.92 L416.96,240.06 L423.59,240.19 L430.00,240.30 L436.31,240.40 L442.86,240.49 L449.58,240.58 L456.39,240.66 L463.22,240.74 L470.00,240.80 L477.03,240.85 L484.43,240.90 L491.85,240.94 L498.94,240.97 L505.34,240.99 L510.70,241.00 L514.88,241.04 L518.13,241.12 L520.69,241.19 L522.81,241.20 L524.73,241.12 L526.70,240.90 L528.59,240.56 L530.19,240.16 L531.59,239.65 L532.90,239.02 L534.20,238.25 L535.60,237.30 L537.10,236.10 L538.63,234.66 L540.16,233.07 L541.66,231.43 L543.12,229.84 L544.50,228.40 L545.80,227.13 L547.03,225.97 L548.21,224.85 L549.37,223.73 L550.53,222.57 L551.70,221.30 L552.87,219.92 L554.01,218.47 L555.14,216.96 L556.30,215.43 L557.51,213.90 L558.80,212.40 L560.20,210.88 L561.70,209.30 L563.25,207.73 L564.80,206.21 L566.30,204.78 L567.70,203.50 L568.98,202.38 L570.19,201.38 L571.34,200.48 L572.47,199.65 L573.61,198.87 L574.80,198.10 L576.00,197.35 L577.20,196.63 L578.41,195.96 L579.64,195.34 L580.94,194.79 L582.30,194.30 L583.77,193.88 L585.33,193.51 L586.95,193.21 L588.58,192.97 L590.17,192.80 L591.70,192.70 L593.09,192.70 L594.38,192.79 L595.64,192.95 L596.94,193.16 L598.37,193.38 L600.00,193.60 L601.87,193.82 L603.93,194.07 L606.11,194.34 L608.36,194.62 L610.61,194.91 L612.80,195.20 L614.95,195.51 L617.10,195.83 L619.25,196.17 L621.40,196.50 L623.55,196.81 L625.70,197.10 L627.78,197.36 L629.79,197.60 L631.80,197.82 L633.87,198.03 L636.08,198.22 L638.50,198.40 L641.32,198.57 L644.54,198.73 L647.89,198.88 L651.13,199.00 L653.98,199.11 L656.20,199.20 L657.72,199.26 L658.73,199.29 L659.36,199.30 L659.74,199.30 L660.01,199.30 L660.30,199.30" fill="none" stroke="#3030a0" stroke-width="1.0" stroke-dasharray="4.6 4.6" stroke-linejoin="round"/>
<path d="M396.00,239.30 L398.54,239.38 L402.00,239.49 L406.12,239.61 L410.67,239.75 L415.38,239.88 L420.00,240.00 L424.65,240.11 L429.56,240.21 L434.62,240.32 L439.78,240.42 L444.93,240.51 L450.00,240.60 L455.06,240.68 L460.19,240.77 L465.31,240.84 L470.37,240.91 L475.29,240.96 L480.00,241.00 L484.68,241.02 L489.42,241.02 L494.02,241.01 L498.28,240.99 L502.01,240.95 L505.00,240.90 L507.03,240.86 L508.21,240.83 L508.86,240.78 L509.28,240.70 L509.79,240.54 L510.70,240.30 L512.02,239.97 L513.50,239.56 L515.06,239.09 L516.65,238.56 L518.18,237.96 L519.60,237.30 L520.89,236.61 L522.10,235.90 L523.26,235.13 L524.39,234.25 L525.53,233.22 L526.70,232.00 L527.90,230.61 L529.10,229.10 L530.30,227.43 L531.50,225.59 L532.70,223.56 L533.90,221.30 L535.10,218.74 L536.31,215.88 L537.52,212.83 L538.72,209.67 L539.88,206.53 L541.00,203.50 L542.08,200.51 L543.12,197.48 L544.13,194.45 L545.11,191.49 L546.07,188.65 L547.00,186.00 L547.89,183.57 L548.72,181.31 L549.53,179.19 L550.33,177.13 L551.15,175.09 L552.00,173.00 L552.89,170.83 L553.80,168.60 L554.73,166.39 L555.66,164.26 L556.59,162.27 L557.50,160.50 L558.37,158.97 L559.21,157.64 L560.05,156.45 L560.91,155.36 L561.81,154.33 L562.80,153.30 L563.88,152.27 L565.03,151.26 L566.24,150.31 L567.47,149.43 L568.70,148.65 L569.90,148.00 L571.02,147.49 L572.07,147.11 L573.11,146.83 L574.23,146.61 L575.50,146.45 L577.00,146.30 L578.74,146.18 L580.66,146.13 L582.73,146.11 L584.91,146.13 L587.18,146.16 L589.50,146.20 L591.96,146.25 L594.61,146.33 L597.34,146.42 L600.05,146.53 L602.64,146.62 L605.00,146.70 L607.05,146.75 L608.84,146.77 L610.52,146.78 L612.20,146.81 L614.02,146.88 L616.10,147.00 L618.54,147.20 L621.24,147.47 L624.09,147.77 L626.93,148.08 L629.65,148.36 L632.10,148.60 L634.33,148.80 L636.46,148.99 L638.45,149.15 L640.29,149.28 L641.95,149.37 L643.40,149.40 L644.58,149.35 L645.48,149.21 L646.21,149.03 L646.84,148.84 L647.48,148.69 L648.20,148.60 L648.97,148.58 L649.72,148.61 L650.46,148.67 L651.24,148.74 L652.07,148.83 L653.00,148.90 L654.12,148.98 L655.43,149.07 L656.80,149.17 L658.10,149.26 L659.21,149.34 L660.00,149.40" fill="none" stroke="#3030a0" stroke-width="1.0" stroke-linejoin="round"/>
<path d="M396.00,237.60 L396.54,237.75 L397.30,237.97 L398.19,238.22 L399.15,238.48 L400.11,238.71 L401.00,238.90 L401.83,239.04 L402.67,239.17 L403.50,239.28 L404.33,239.36 L405.17,239.40 L406.00,239.40 L406.83,239.33 L407.67,239.20 L408.50,239.04 L409.33,238.86 L410.17,238.71 L411.00,238.60 L411.83,238.53 L412.67,238.48 L413.50,238.45 L414.33,238.44 L415.17,238.46 L416.00,238.50 L416.82,238.58 L417.63,238.71 L418.44,238.86 L419.26,239.02 L420.11,239.17 L421.00,239.30 L421.91,239.40 L422.81,239.49 L423.75,239.57 L424.74,239.65 L425.81,239.73 L427.00,239.80 L428.31,239.87 L429.74,239.95 L431.25,240.02 L432.81,240.09 L434.41,240.15 L436.00,240.20 L437.59,240.24 L439.19,240.27 L440.81,240.30 L442.48,240.33 L444.21,240.36 L446.00,240.40 L447.86,240.46 L449.78,240.52 L451.75,240.59 L453.78,240.67 L455.86,240.74 L458.00,240.80 L460.19,240.86 L462.44,240.91 L464.75,240.97 L467.11,241.02 L469.53,241.06 L472.00,241.10 L474.57,241.13 L477.26,241.16 L480.00,241.17 L482.74,241.19 L485.43,241.20 L488.00,241.20 L490.55,241.21 L493.14,241.24 L495.68,241.27 L498.07,241.27 L500.20,241.22 L502.00,241.10 L503.34,240.93 L504.28,240.73 L504.98,240.49 L505.57,240.18 L506.23,239.79 L507.10,239.30 L508.18,238.68 L509.35,237.94 L510.57,237.11 L511.83,236.25 L513.08,235.40 L514.30,234.60 L515.49,233.90 L516.67,233.28 L517.86,232.66 L519.04,231.99 L520.22,231.19 L521.40,230.20 L522.60,229.00 L523.83,227.63 L525.06,226.14 L526.26,224.57 L527.42,222.94 L528.50,221.30 L529.50,219.64 L530.43,217.93 L531.31,216.18 L532.17,214.37 L533.03,212.51 L533.90,210.60 L534.79,208.66 L535.67,206.70 L536.56,204.68 L537.44,202.59 L538.32,200.41 L539.20,198.10 L540.11,195.53 L541.04,192.70 L541.98,189.77 L542.89,186.91 L543.74,184.30 L544.50,182.10 L545.13,180.54 L545.64,179.51 L546.10,178.74 L546.56,177.91 L547.07,176.73 L547.70,174.90 L548.46,172.31 L549.31,169.16 L550.21,165.66 L551.15,162.02 L552.09,158.43 L553.00,155.10 L553.91,151.98 L554.83,148.89 L555.76,145.85 L556.67,142.89 L557.56,140.04 L558.40,137.30 L559.18,134.73 L559.91,132.30 L560.61,129.98 L561.30,127.71 L562.03,125.43 L562.80,123.10 L563.63,120.68 L564.50,118.21 L565.39,115.73 L566.29,113.30 L567.20,110.98 L568.10,108.80 L568.97,106.79 L569.83,104.90 L570.69,103.11 L571.57,101.40 L572.50,99.74 L573.50,98.10 L574.56,96.47 L575.67,94.87 L576.83,93.31 L578.04,91.83 L579.29,90.45 L580.60,89.20 L581.98,88.06 L583.43,87.02 L584.94,86.08 L586.47,85.24 L588.00,84.52 L589.50,83.90 L591.01,83.43 L592.55,83.11 L594.09,82.89 L595.60,82.75 L597.05,82.63 L598.40,82.50 L599.62,82.36 L600.73,82.24 L601.77,82.14 L602.80,82.09 L603.86,82.07 L605.00,82.10 L606.17,82.20 L607.33,82.36 L608.51,82.56 L609.79,82.79 L611.20,83.01 L612.80,83.20 L614.67,83.37 L616.77,83.53 L619.01,83.69 L621.29,83.85 L623.52,84.02 L625.60,84.20 L627.57,84.39 L629.51,84.58 L631.39,84.78 L633.20,84.99 L634.91,85.23 L636.50,85.50 L637.95,85.84 L639.27,86.26 L640.49,86.71 L641.64,87.13 L642.73,87.47 L643.80,87.70 L644.81,87.80 L645.74,87.81 L646.61,87.75 L647.46,87.63 L648.32,87.48 L649.20,87.30 L650.11,87.03 L651.03,86.66 L651.94,86.24 L652.86,85.86 L653.78,85.58 L654.70,85.50 L655.68,85.66 L656.74,86.02 L657.79,86.49 L658.77,86.98 L659.60,87.41 L660.20,87.70" fill="none" stroke="#222" stroke-width="1.0" stroke-linejoin="round"/>
<rect x="390.4" y="32.3" width="269.9" height="216.89999999999998" fill="none" stroke="#3a3a3a" stroke-width="1.1"/>
<text x="11.0" y="294.7" font-size="9.2" text-anchor="start" font-weight="bold" fill="#000" textLength="12.8" lengthAdjust="spacingAndGlyphs">(C)</text>
<line x1="49.0" y1="519.9" x2="53.3" y2="519.9" stroke="#3a3a3a" stroke-width="1"/>
<text x="45.0" y="523.6" font-size="10.4" text-anchor="end" font-weight="normal" fill="#1a1a1a" textLength="5.9" lengthAdjust="spacingAndGlyphs">0</text>
<line x1="49.0" y1="480.08" x2="53.3" y2="480.08" stroke="#3a3a3a" stroke-width="1"/>
<text x="46.4" y="483.78" font-size="10.4" text-anchor="end" font-weight="normal" fill="#1a1a1a" textLength="14.2" lengthAdjust="spacingAndGlyphs">0.2</text>
<line x1="49.0" y1="440.26" x2="53.3" y2="440.26" stroke="#3a3a3a" stroke-width="1"/>
<text x="46.4" y="443.96" font-size="10.4" text-anchor="end" font-weight="normal" fill="#1a1a1a" textLength="14.2" lengthAdjust="spacingAndGlyphs">0.4</text>
<line x1="49.0" y1="400.43999999999994" x2="53.3" y2="400.43999999999994" stroke="#3a3a3a" stroke-width="1"/>
<text x="46.4" y="404.13999999999993" font-size="10.4" text-anchor="end" font-weight="normal" fill="#1a1a1a" textLength="14.2" lengthAdjust="spacingAndGlyphs">0.6</text>
<line x1="49.0" y1="360.62" x2="53.3" y2="360.62" stroke="#3a3a3a" stroke-width="1"/>
<text x="46.4" y="364.32" font-size="10.4" text-anchor="end" font-weight="normal" fill="#1a1a1a" textLength="14.2" lengthAdjust="spacingAndGlyphs">0.8</text>
<line x1="49.0" y1="320.79999999999995" x2="53.3" y2="320.79999999999995" stroke="#3a3a3a" stroke-width="1"/>
<text x="46.4" y="324.49999999999994" font-size="10.4" text-anchor="end" font-weight="normal" fill="#1a1a1a" textLength="14.2" lengthAdjust="spacingAndGlyphs">1.0</text>
<line x1="49.0" y1="499.98999999999995" x2="51.3" y2="499.98999999999995" stroke="#3a3a3a" stroke-width="1"/>
<line x1="49.0" y1="460.16999999999996" x2="51.3" y2="460.16999999999996" stroke="#3a3a3a" stroke-width="1"/>
<line x1="49.0" y1="420.34999999999997" x2="51.3" y2="420.34999999999997" stroke="#3a3a3a" stroke-width="1"/>
<line x1="49.0" y1="380.53" x2="51.3" y2="380.53" stroke="#3a3a3a" stroke-width="1"/>
<line x1="49.0" y1="340.71" x2="51.3" y2="340.71" stroke="#3a3a3a" stroke-width="1"/>
<line x1="49.0" y1="529.8" x2="49.0" y2="525.5" stroke="#3a3a3a" stroke-width="1"/>
<text x="48.2" y="541.4" font-size="10.4" text-anchor="middle" font-weight="normal" fill="#1a1a1a" textLength="5.9" lengthAdjust="spacingAndGlyphs">0</text>
<line x1="104.58" y1="529.8" x2="104.58" y2="525.5" stroke="#3a3a3a" stroke-width="1"/>
<text x="103.78" y="541.4" font-size="10.4" text-anchor="middle" font-weight="normal" fill="#1a1a1a" textLength="11.8" lengthAdjust="spacingAndGlyphs">10</text>
<line x1="160.16" y1="529.8" x2="160.16" y2="525.5" stroke="#3a3a3a" stroke-width="1"/>
<text x="159.35999999999999" y="541.4" font-size="10.4" text-anchor="middle" font-weight="normal" fill="#1a1a1a" textLength="11.8" lengthAdjust="spacingAndGlyphs">20</text>
<line x1="215.74" y1="529.8" x2="215.74" y2="525.5" stroke="#3a3a3a" stroke-width="1"/>
<text x="214.94" y="541.4" font-size="10.4" text-anchor="middle" font-weight="normal" fill="#1a1a1a" textLength="11.8" lengthAdjust="spacingAndGlyphs">30</text>
<line x1="271.32" y1="529.8" x2="271.32" y2="525.5" stroke="#3a3a3a" stroke-width="1"/>
<text x="270.52" y="541.4" font-size="10.4" text-anchor="middle" font-weight="normal" fill="#1a1a1a" textLength="11.8" lengthAdjust="spacingAndGlyphs">40</text>
<line x1="326.9" y1="529.8" x2="326.9" y2="525.5" stroke="#3a3a3a" stroke-width="1"/>
<text x="326.09999999999997" y="541.4" font-size="10.4" text-anchor="middle" font-weight="normal" fill="#1a1a1a" textLength="11.8" lengthAdjust="spacingAndGlyphs">50</text>
<line x1="76.78999999999999" y1="529.8" x2="76.78999999999999" y2="527.5" stroke="#3a3a3a" stroke-width="1"/>
<line x1="132.37" y1="529.8" x2="132.37" y2="527.5" stroke="#3a3a3a" stroke-width="1"/>
<line x1="187.95" y1="529.8" x2="187.95" y2="527.5" stroke="#3a3a3a" stroke-width="1"/>
<line x1="243.53" y1="529.8" x2="243.53" y2="527.5" stroke="#3a3a3a" stroke-width="1"/>
<line x1="299.10999999999996" y1="529.8" x2="299.10999999999996" y2="527.5" stroke="#3a3a3a" stroke-width="1"/>
<text x="158.7" y="557.1" font-size="10.6" text-anchor="start" font-weight="normal" fill="#1a1a1a" textLength="71.6" lengthAdjust="spacingAndGlyphs">Cycle Number</text>
<text x="18.9" y="477.8" font-size="10.7" text-anchor="start" font-weight="normal" fill="#1a1a1a" textLength="140.2" lengthAdjust="spacingAndGlyphs" transform="rotate(-90 18.9 477.8)">Fluorescent Intensity (a.u)</text>
<line x1="49.0" y1="519.9" x2="326.9" y2="519.9" stroke="#8a8a8a" stroke-width="1.3"/>
<line x1="57.7" y1="327.2" x2="81.5" y2="327.2" stroke="#e8202a" stroke-width="1.0"/>
<text x="86.9" y="330.09999999999997" font-size="10.5" text-anchor="start" font-weight="normal" fill="#1a1a1a" textLength="66.6" lengthAdjust="spacingAndGlyphs">IVT RNA 2ug/ul</text>
<line x1="57.7" y1="341.3" x2="81.5" y2="341.3" stroke="#2a2aa0" stroke-width="1.0"/>
<text x="86.9" y="344.2" font-size="10.5" text-anchor="start" font-weight="normal" fill="#1a1a1a" textLength="77.4" lengthAdjust="spacingAndGlyphs">IVT RNA 200ng/ul</text>
<line x1="57.7" y1="355.3" x2="81.5" y2="355.3" stroke="#3a7a55" stroke-width="1.0"/>
<text x="86.9" y="358.2" font-size="10.5" text-anchor="start" font-weight="normal" fill="#1a1a1a" textLength="72.0" lengthAdjust="spacingAndGlyphs">IVT RNA 20ng/ul</text>
<line x1="57.7" y1="369.2" x2="81.5" y2="369.2" stroke="#e0208a" stroke-width="1.0"/>
<text x="86.9" y="372.09999999999997" font-size="10.5" text-anchor="start" font-weight="normal" fill="#1a1a1a" textLength="67.0" lengthAdjust="spacingAndGlyphs">IVT RNA 2ng/ul</text>
<line x1="57.7" y1="383.0" x2="81.5" y2="383.0" stroke="#222" stroke-width="1.0"/>
<text x="86.9" y="385.9" font-size="10.5" text-anchor="start" font-weight="normal" fill="#1a1a1a" textLength="19.2" lengthAdjust="spacingAndGlyphs">NTC</text>
<path d="M54.85,514.00 L60.40,515.30 L65.96,516.59 L71.51,519.01 L77.06,515.08 L82.61,516.55 L88.16,517.70 L93.72,518.06 L99.27,518.23 L104.82,518.34 L110.37,518.41 L115.92,518.45 L121.48,518.46 L127.03,517.26 L132.58,513.97 L138.13,507.30 L143.68,495.50 L149.24,475.03 L154.79,448.54 L160.34,420.96 L165.89,388.01 L171.44,358.72 L177.00,335.05 L182.55,324.55 L188.10,321.01 L193.65,320.66 L199.20,321.17 L204.76,322.53 L210.31,325.10 L215.86,327.28 L221.41,329.23 L226.96,331.32 L232.52,333.66 L238.07,335.40 L243.62,336.48 L249.17,338.71 L254.72,341.32 L260.28,343.75 L265.83,345.81 L271.38,347.68 L276.93,349.46 L282.48,351.02 L288.04,352.71 L293.59,354.94 L299.14,357.57 L304.69,360.03 L310.24,361.51 L315.80,363.45 L321.35,369.13 L326.90,368.20" fill="none" stroke="#e8202a" stroke-width="1.0" stroke-linejoin="round"/>
<path d="M54.85,514.30 L60.40,515.60 L65.96,516.89 L71.51,519.31 L77.06,515.38 L82.61,516.85 L88.16,518.00 L93.72,518.36 L99.27,518.53 L104.82,518.64 L110.37,518.71 L115.92,518.77 L121.48,518.78 L127.03,517.28 L132.58,514.07 L138.13,507.45 L143.68,495.81 L149.24,475.43 L154.79,449.04 L160.34,421.52 L165.89,388.56 L171.44,359.22 L177.00,335.37 L182.55,324.66 L188.10,321.03 L193.65,320.65 L199.20,321.15 L204.76,322.49 L210.31,325.06 L215.86,327.22 L221.41,329.12 L226.96,331.41 L232.52,334.35 L238.07,336.59 L243.62,337.95 L249.17,340.24 L254.72,342.84 L260.28,345.25 L265.83,347.27 L271.38,349.14 L276.93,351.04 L282.48,352.93 L288.04,354.88 L293.59,357.06 L299.14,359.41 L304.69,361.53 L310.24,362.54 L315.80,364.15 L321.35,370.64 L326.90,371.90" fill="none" stroke="#e8202a" stroke-width="1.0" stroke-linejoin="round"/>
<path d="M54.85,514.60 L60.40,515.90 L65.96,517.19 L71.51,519.61 L77.06,515.68 L82.61,517.15 L88.16,518.30 L93.72,518.66 L99.27,518.83 L104.82,518.94 L110.37,519.01 L115.92,519.08 L121.48,519.10 L127.03,517.31 L132.58,514.16 L138.13,507.59 L143.68,496.13 L149.24,475.84 L154.79,449.54 L160.34,422.08 L165.89,389.11 L171.44,359.72 L177.00,335.69 L182.55,324.76 L188.10,321.06 L193.65,320.65 L199.20,321.13 L204.76,322.46 L210.31,325.01 L215.86,327.16 L221.41,329.03 L226.96,331.44 L232.52,334.79 L238.07,337.44 L243.62,339.26 L249.17,342.60 L254.72,346.43 L260.28,349.79 L265.83,352.28 L271.38,354.32 L276.93,356.19 L282.48,357.71 L288.04,359.38 L293.59,361.81 L299.14,364.79 L304.69,367.53 L310.24,369.13 L315.80,370.74 L321.35,378.89 L326.90,377.90" fill="none" stroke="#e8202a" stroke-width="1.0" stroke-linejoin="round"/>
<path d="M54.85,514.00 L60.40,515.30 L65.96,516.59 L71.51,519.01 L77.06,515.08 L82.61,516.55 L88.16,517.70 L93.72,518.06 L99.27,518.23 L104.82,518.34 L110.37,518.41 L115.92,518.41 L121.48,518.39 L127.03,518.43 L132.58,518.54 L138.13,518.68 L143.68,518.77 L149.24,517.71 L154.79,512.71 L160.34,502.32 L165.89,486.08 L171.44,463.23 L177.00,434.83 L182.55,402.42 L188.10,370.14 L193.65,344.51 L199.20,328.01 L204.76,322.76 L210.31,321.12 L215.86,320.97 L221.41,321.47 L226.96,322.25 L232.52,324.09 L238.07,325.68 L243.62,326.84 L249.17,328.54 L254.72,330.45 L260.28,332.55 L265.83,334.95 L271.38,337.53 L276.93,340.07 L282.48,342.60 L288.04,345.08 L293.59,347.40 L299.14,349.59 L304.69,351.84 L310.24,354.67 L315.80,356.06 L321.35,357.13 L326.90,357.80" fill="none" stroke="#2a2aa0" stroke-width="1.0" stroke-linejoin="round"/>
<path d="M54.85,514.30 L60.40,515.60 L65.96,516.89 L71.51,519.31 L77.06,515.38 L82.61,516.85 L88.16,518.00 L93.72,518.36 L99.27,518.53 L104.82,518.64 L110.37,518.71 L115.92,518.73 L121.48,518.71 L127.03,518.68 L132.58,518.62 L138.13,518.65 L143.68,518.78 L149.24,517.78 L154.79,513.00 L160.34,502.79 L165.89,486.76 L171.44,464.14 L177.00,436.01 L182.55,403.60 L188.10,371.20 L193.65,345.36 L199.20,328.34 L204.76,322.84 L210.31,321.15 L215.86,320.96 L221.41,321.42 L226.96,322.17 L232.52,324.54 L238.07,326.70 L243.62,328.24 L249.17,330.52 L254.72,333.09 L260.28,335.56 L265.83,337.80 L271.38,339.95 L276.93,342.16 L282.48,344.44 L288.04,346.66 L293.59,348.69 L299.14,350.57 L304.69,352.54 L310.24,355.35 L315.80,357.32 L321.35,358.99 L326.90,360.00" fill="none" stroke="#2a2aa0" stroke-width="1.0" stroke-linejoin="round"/>
<path d="M54.85,514.60 L60.40,515.90 L65.96,517.19 L71.51,519.61 L77.06,515.68 L82.61,517.15 L88.16,518.30 L93.72,518.66 L99.27,518.83 L104.82,518.94 L110.37,519.01 L115.92,519.04 L121.48,519.03 L127.03,518.94 L132.58,518.72 L138.13,518.62 L143.68,518.78 L149.24,517.85 L154.79,513.29 L160.34,503.25 L165.89,487.44 L171.44,465.03 L177.00,437.18 L182.55,404.79 L188.10,372.28 L193.65,346.22 L199.20,328.69 L204.76,322.92 L210.31,321.19 L215.86,320.95 L221.41,321.35 L226.96,322.06 L232.52,325.09 L238.07,328.72 L243.62,331.68 L249.17,334.97 L254.72,338.36 L260.28,341.50 L265.83,344.27 L271.38,346.74 L276.93,348.83 L282.48,350.36 L288.04,351.92 L293.59,354.15 L299.14,356.83 L304.69,359.33 L310.24,361.00 L315.80,362.62 L321.35,368.32 L326.90,367.50" fill="none" stroke="#2a2aa0" stroke-width="1.0" stroke-linejoin="round"/>
<path d="M54.85,514.00 L60.40,515.30 L65.96,516.59 L71.51,519.01 L77.06,515.08 L82.61,516.55 L88.16,517.70 L93.72,518.06 L99.27,518.23 L104.82,518.34 L110.37,518.41 L115.92,518.41 L121.48,518.39 L127.03,518.42 L132.58,518.49 L138.13,518.56 L143.68,518.63 L149.24,518.67 L154.79,518.66 L160.34,518.48 L165.89,516.76 L171.44,512.04 L177.00,504.17 L182.55,488.15 L188.10,465.84 L193.65,437.80 L199.20,410.33 L204.76,377.97 L210.31,344.80 L215.86,328.20 L221.41,323.35 L226.96,321.37 L232.52,320.82 L238.07,321.22 L243.62,322.93 L249.17,325.05 L254.72,327.30 L260.28,329.55 L265.83,331.75 L271.38,333.98 L276.93,336.35 L282.48,339.01 L288.04,341.48 L293.59,343.34 L299.14,344.80 L304.69,345.80 L310.24,344.23 L315.80,347.33 L321.35,351.86 L326.90,356.30" fill="none" stroke="#4a8a65" stroke-width="1.0" stroke-linejoin="round"/>
<path d="M54.85,514.30 L60.40,515.60 L65.96,516.89 L71.51,519.31 L77.06,515.38 L82.61,516.85 L88.16,518.00 L93.72,518.36 L99.27,518.53 L104.82,518.64 L110.37,518.71 L115.92,518.73 L121.48,518.71 L127.03,518.70 L132.58,518.72 L138.13,518.74 L143.68,518.76 L149.24,518.75 L154.79,518.69 L160.34,518.48 L165.89,516.83 L171.44,512.20 L177.00,504.51 L182.55,488.66 L188.10,466.56 L193.65,438.54 L199.20,411.08 L204.76,378.93 L210.31,345.45 L215.86,328.44 L221.41,323.42 L226.96,321.41 L232.52,320.76 L238.07,321.25 L243.62,323.82 L249.17,326.18 L254.72,328.47 L260.28,330.76 L265.83,333.05 L271.38,335.36 L276.93,337.74 L282.48,340.27 L288.04,342.67 L293.59,344.64 L299.14,346.33 L304.69,347.61 L310.24,346.53 L315.80,349.33 L321.35,353.45 L326.90,357.60" fill="none" stroke="#4a8a65" stroke-width="1.0" stroke-linejoin="round"/>
<path d="M54.85,514.60 L60.40,515.90 L65.96,517.19 L71.51,519.61 L77.06,515.68 L82.61,517.15 L88.16,518.30 L93.72,518.66 L99.27,518.83 L104.82,518.94 L110.37,519.01 L115.92,519.04 L121.48,519.02 L127.03,518.98 L132.58,518.96 L138.13,518.93 L143.68,518.89 L149.24,518.83 L154.79,518.72 L160.34,518.48 L165.89,516.90 L171.44,512.35 L177.00,504.84 L182.55,489.17 L188.10,467.26 L193.65,439.28 L199.20,411.84 L204.76,379.88 L210.31,346.11 L215.86,328.70 L221.41,323.49 L226.96,321.45 L232.52,320.71 L238.07,321.25 L243.62,324.72 L249.17,327.31 L254.72,329.65 L260.28,331.96 L265.83,334.26 L271.38,336.55 L276.93,338.94 L282.48,341.51 L288.04,343.95 L293.59,345.99 L299.14,347.77 L304.69,349.21 L310.24,348.72 L315.80,351.23 L321.35,354.97 L326.90,359.00" fill="none" stroke="#4a8a65" stroke-width="1.0" stroke-linejoin="round"/>
<path d="M54.85,514.00 L60.40,515.30 L65.96,516.59 L71.51,519.01 L77.06,515.08 L82.61,516.55 L88.16,517.70 L93.72,518.06 L99.27,518.23 L104.82,518.34 L110.37,518.41 L115.92,518.40 L121.48,518.39 L127.03,518.41 L132.58,518.43 L138.13,518.46 L143.68,518.49 L149.24,518.52 L154.79,518.55 L160.34,518.57 L165.89,518.59 L171.44,518.61 L177.00,518.33 L182.55,517.56 L188.10,515.00 L193.65,508.28 L199.20,493.37 L204.76,469.13 L210.31,435.69 L215.86,398.98 L221.41,367.09 L226.96,344.36 L232.52,328.62 L238.07,322.98 L243.62,320.95 L249.17,320.72 L254.72,321.19 L260.28,322.45 L265.83,323.81 L271.38,325.34 L276.93,327.02 L282.48,328.79 L288.04,330.63 L293.59,332.56 L299.14,334.69 L304.69,337.18 L310.24,339.45 L315.80,340.89 L321.35,343.52 L326.90,345.10" fill="none" stroke="#e0208a" stroke-width="1.0" stroke-linejoin="round"/>
<path d="M54.85,514.30 L60.40,515.60 L65.96,516.89 L71.51,519.31 L77.06,515.38 L82.61,516.85 L88.16,518.00 L93.72,518.36 L99.27,518.53 L104.82,518.64 L110.37,518.71 L115.92,518.72 L121.48,518.71 L127.03,518.70 L132.58,518.69 L138.13,518.67 L143.68,518.66 L149.24,518.65 L154.79,518.64 L160.34,518.63 L165.89,518.61 L171.44,518.59 L177.00,518.38 L182.55,517.78 L188.10,515.60 L193.65,509.90 L199.20,496.09 L204.76,474.20 L210.31,441.33 L215.86,404.90 L221.41,371.81 L226.96,347.59 L232.52,330.37 L238.07,323.47 L243.62,321.10 L249.17,320.59 L254.72,323.37 L260.28,324.68 L265.83,326.01 L271.38,327.54 L276.93,329.17 L282.48,331.00 L288.04,333.18 L293.59,335.49 L299.14,337.58 L304.69,339.35 L310.24,340.85 L315.80,342.53 L321.35,345.96 L326.90,348.10" fill="none" stroke="#e0208a" stroke-width="1.0" stroke-linejoin="round"/>
<path d="M54.85,514.60 L60.40,515.90 L65.96,517.19 L71.51,519.61 L77.06,515.68 L82.61,517.15 L88.16,518.30 L93.72,518.66 L99.27,518.83 L104.82,518.94 L110.37,519.01 L115.92,519.04 L121.48,519.02 L127.03,518.98 L132.58,518.94 L138.13,518.89 L143.68,518.84 L149.24,518.79 L154.79,518.74 L160.34,518.69 L165.89,518.64 L171.44,518.59 L177.00,518.43 L182.55,517.95 L188.10,516.10 L193.65,511.27 L199.20,498.77 L204.76,479.09 L210.31,446.90 L215.86,411.05 L221.41,376.72 L226.96,350.69 L232.52,332.31 L238.07,324.00 L243.62,321.33 L249.17,320.54 L254.72,324.70 L260.28,327.16 L265.83,329.48 L271.38,331.77 L276.93,333.95 L282.48,336.22 L288.04,338.76 L293.59,341.33 L299.14,343.43 L304.69,344.81 L310.24,346.10 L315.80,348.94 L321.35,352.45 L326.90,353.30" fill="none" stroke="#e0208a" stroke-width="1.0" stroke-linejoin="round"/>
<rect x="49.0" y="311.0" width="277.9" height="218.79999999999995" fill="none" stroke="#3a3a3a" stroke-width="1.1"/>
<text x="359.2" y="294.5" font-size="9.2" text-anchor="start" font-weight="bold" fill="#000" textLength="12.7" lengthAdjust="spacingAndGlyphs">(D)</text>
<line x1="392.6" y1="520.7" x2="396.90000000000003" y2="520.7" stroke="#3a3a3a" stroke-width="1"/>
<text x="388.3" y="522.2" font-size="10.4" text-anchor="end" font-weight="normal" fill="#1a1a1a" textLength="5.9" lengthAdjust="spacingAndGlyphs">0</text>
<line x1="392.6" y1="482.74000000000007" x2="396.90000000000003" y2="482.74000000000007" stroke="#3a3a3a" stroke-width="1"/>
<text x="390.1" y="486.3" font-size="10.4" text-anchor="end" font-weight="normal" fill="#1a1a1a" textLength="14.2" lengthAdjust="spacingAndGlyphs">0.2</text>
<line x1="392.6" y1="444.78000000000003" x2="396.90000000000003" y2="444.78000000000003" stroke="#3a3a3a" stroke-width="1"/>
<text x="390.1" y="448.3" font-size="10.4" text-anchor="end" font-weight="normal" fill="#1a1a1a" textLength="14.2" lengthAdjust="spacingAndGlyphs">0.4</text>
<line x1="392.6" y1="406.82000000000005" x2="396.90000000000003" y2="406.82000000000005" stroke="#3a3a3a" stroke-width="1"/>
<text x="390.1" y="410.5" font-size="10.4" text-anchor="end" font-weight="normal" fill="#1a1a1a" textLength="14.2" lengthAdjust="spacingAndGlyphs">0.6</text>
<line x1="392.6" y1="368.86" x2="396.90000000000003" y2="368.86" stroke="#3a3a3a" stroke-width="1"/>
<text x="390.1" y="372.5" font-size="10.4" text-anchor="end" font-weight="normal" fill="#1a1a1a" textLength="14.2" lengthAdjust="spacingAndGlyphs">0.8</text>
<line x1="392.6" y1="330.90000000000003" x2="396.90000000000003" y2="330.90000000000003" stroke="#3a3a3a" stroke-width="1"/>
<text x="390.1" y="333.4" font-size="10.4" text-anchor="end" font-weight="normal" fill="#1a1a1a" textLength="14.2" lengthAdjust="spacingAndGlyphs">1.0</text>
<line x1="392.6" y1="501.72" x2="394.90000000000003" y2="501.72" stroke="#3a3a3a" stroke-width="1"/>
<line x1="392.6" y1="463.76000000000005" x2="394.90000000000003" y2="463.76000000000005" stroke="#3a3a3a" stroke-width="1"/>
<line x1="392.6" y1="425.80000000000007" x2="394.90000000000003" y2="425.80000000000007" stroke="#3a3a3a" stroke-width="1"/>
<line x1="392.6" y1="387.84000000000003" x2="394.90000000000003" y2="387.84000000000003" stroke="#3a3a3a" stroke-width="1"/>
<line x1="392.6" y1="349.88" x2="394.90000000000003" y2="349.88" stroke="#3a3a3a" stroke-width="1"/>
<line x1="392.6" y1="526.2" x2="392.6" y2="521.9000000000001" stroke="#3a3a3a" stroke-width="1"/>
<text x="393.0" y="539.0" font-size="10.4" text-anchor="middle" font-weight="normal" fill="#1a1a1a" textLength="5.9" lengthAdjust="spacingAndGlyphs">0</text>
<line x1="446.98" y1="526.2" x2="446.98" y2="521.9000000000001" stroke="#3a3a3a" stroke-width="1"/>
<text x="447.38" y="539.0" font-size="10.4" text-anchor="middle" font-weight="normal" fill="#1a1a1a" textLength="11.8" lengthAdjust="spacingAndGlyphs">10</text>
<line x1="501.36" y1="526.2" x2="501.36" y2="521.9000000000001" stroke="#3a3a3a" stroke-width="1"/>
<text x="501.76" y="539.0" font-size="10.4" text-anchor="middle" font-weight="normal" fill="#1a1a1a" textLength="11.8" lengthAdjust="spacingAndGlyphs">20</text>
<line x1="555.74" y1="526.2" x2="555.74" y2="521.9000000000001" stroke="#3a3a3a" stroke-width="1"/>
<text x="556.14" y="539.0" font-size="10.4" text-anchor="middle" font-weight="normal" fill="#1a1a1a" textLength="11.8" lengthAdjust="spacingAndGlyphs">30</text>
<line x1="610.12" y1="526.2" x2="610.12" y2="521.9000000000001" stroke="#3a3a3a" stroke-width="1"/>
<text x="610.52" y="539.0" font-size="10.4" text-anchor="middle" font-weight="normal" fill="#1a1a1a" textLength="11.8" lengthAdjust="spacingAndGlyphs">40</text>
<line x1="664.5" y1="526.2" x2="664.5" y2="521.9000000000001" stroke="#3a3a3a" stroke-width="1"/>
<text x="664.9" y="539.0" font-size="10.4" text-anchor="middle" font-weight="normal" fill="#1a1a1a" textLength="11.8" lengthAdjust="spacingAndGlyphs">50</text>
<line x1="419.79" y1="526.2" x2="419.79" y2="523.9000000000001" stroke="#3a3a3a" stroke-width="1"/>
<line x1="474.17" y1="526.2" x2="474.17" y2="523.9000000000001" stroke="#3a3a3a" stroke-width="1"/>
<line x1="528.55" y1="526.2" x2="528.55" y2="523.9000000000001" stroke="#3a3a3a" stroke-width="1"/>
<line x1="582.9300000000001" y1="526.2" x2="582.9300000000001" y2="523.9000000000001" stroke="#3a3a3a" stroke-width="1"/>
<line x1="637.31" y1="526.2" x2="637.31" y2="523.9000000000001" stroke="#3a3a3a" stroke-width="1"/>
<text x="500.7" y="554.0" font-size="10.5" text-anchor="start" font-weight="normal" fill="#1a1a1a" textLength="69.9" lengthAdjust="spacingAndGlyphs">Cycle Number</text>
<text x="363.8" y="479.2" font-size="10.7" text-anchor="start" font-weight="normal" fill="#1a1a1a" textLength="137.0" lengthAdjust="spacingAndGlyphs" transform="rotate(-90 363.8 479.2)">Fluorescent Intensity (a.u)</text>
<line x1="403.2" y1="326.1" x2="426.9" y2="326.1" stroke="#e8202a" stroke-width="1.0"/>
<text x="430.8" y="329.6" font-size="10.5" text-anchor="start" font-weight="normal" fill="#1a1a1a" textLength="78.1" lengthAdjust="spacingAndGlyphs">HeLa cell 156ng/ul</text>
<line x1="403.2" y1="339.8" x2="426.9" y2="339.8" stroke="#2a2aa0" stroke-width="1.0"/>
<text x="430.8" y="343.3" font-size="10.5" text-anchor="start" font-weight="normal" fill="#1a1a1a" textLength="81.1" lengthAdjust="spacingAndGlyphs">HeLa cell 15.6ng/ul</text>
<line x1="403.2" y1="353.6" x2="426.9" y2="353.6" stroke="#3a7a55" stroke-width="1.0"/>
<text x="430.8" y="357.1" font-size="10.5" text-anchor="start" font-weight="normal" fill="#1a1a1a" textLength="80.6" lengthAdjust="spacingAndGlyphs">HeLa cell 1.56ng/ul</text>
<line x1="403.2" y1="367.5" x2="426.9" y2="367.5" stroke="#e0208a" stroke-width="1.0"/>
<text x="430.8" y="371.0" font-size="10.5" text-anchor="start" font-weight="normal" fill="#1a1a1a" textLength="78.1" lengthAdjust="spacingAndGlyphs">HeLa cell 156pg/ul</text>
<path d="M398.14,512.60 L403.57,513.20 L409.01,513.73 L414.44,514.04 L419.88,514.24 L425.32,514.41 L430.75,514.54 L436.19,514.65 L441.62,514.88 L447.06,515.11 L452.50,515.55 L457.93,517.24 L463.37,519.55 L468.80,519.88 L474.24,519.87 L479.68,519.80 L485.11,519.72 L490.55,519.55 L495.98,519.38 L501.42,518.76 L506.86,511.28 L512.29,492.62 L517.73,466.34 L523.16,440.01 L528.60,409.56 L534.04,378.62 L539.47,355.17 L544.91,342.48 L550.34,332.99 L555.78,330.90 L561.22,330.79 L566.65,330.77 L572.09,330.79 L577.52,330.80 L582.96,330.80 L588.40,330.80 L593.83,330.80 L599.27,330.80 L604.70,330.80 L610.14,330.80 L615.58,330.80 L621.01,330.80 L626.45,330.80 L631.88,330.80 L637.32,330.80 L642.76,330.80 L648.19,330.80 L653.63,330.80 L659.06,330.80 L664.50,330.80" fill="none" stroke="#e8202a" stroke-width="1.0" stroke-linejoin="round"/>
<path d="M398.14,518.50 L403.57,518.63 L409.01,518.76 L414.44,518.89 L419.88,519.01 L425.32,519.12 L430.75,519.21 L436.19,519.29 L441.62,519.35 L447.06,519.41 L452.50,519.46 L457.93,519.51 L463.37,519.55 L468.80,519.59 L474.24,519.62 L479.68,519.64 L485.11,519.65 L490.55,519.64 L495.98,519.59 L501.42,518.74 L506.86,511.33 L512.29,494.70 L517.73,471.65 L523.16,449.23 L528.60,420.59 L534.04,388.59 L539.47,360.91 L544.91,344.43 L550.34,333.52 L555.78,331.03 L561.22,330.68 L566.65,334.04 L572.09,338.31 L577.52,344.89 L582.96,345.83 L588.40,346.08 L593.83,346.54 L599.27,348.13 L604.70,350.90 L610.14,353.74 L615.58,356.71 L621.01,359.65 L626.45,362.66 L631.88,365.83 L637.32,369.11 L642.76,372.21 L648.19,375.71 L653.63,380.29 L659.06,385.64 L664.50,391.20" fill="none" stroke="#e8202a" stroke-width="1.0" stroke-linejoin="round"/>
<path d="M398.14,512.60 L403.57,513.20 L409.01,513.73 L414.44,514.04 L419.88,514.24 L425.32,514.41 L430.75,514.54 L436.19,514.65 L441.62,514.89 L447.06,515.25 L452.50,515.70 L457.93,516.32 L463.37,517.03 L468.80,517.41 L474.24,517.72 L479.68,517.98 L485.11,518.23 L490.55,518.44 L495.98,518.50 L501.42,518.30 L506.86,514.63 L512.29,497.69 L517.73,475.41 L523.16,452.49 L528.60,427.21 L534.04,400.38 L539.47,376.90 L544.91,357.97 L550.34,349.20 L555.78,345.20 L561.22,348.46 L566.65,350.58 L572.09,351.59 L577.52,350.40 L582.96,348.61 L588.40,344.37 L593.83,344.12 L599.27,345.47 L604.70,349.95 L610.14,352.86 L615.58,356.31 L621.01,358.45 L626.45,359.19 L631.88,358.39 L637.32,356.83 L642.76,356.90 L648.19,356.56 L653.63,357.77 L659.06,356.15 L664.50,356.50" fill="none" stroke="#e8202a" stroke-width="1.0" stroke-linejoin="round"/>
<path d="M398.14,518.50 L403.57,518.63 L409.01,518.76 L414.44,518.89 L419.88,519.01 L425.32,519.12 L430.75,519.21 L436.19,519.29 L441.62,519.35 L447.06,519.41 L452.50,519.46 L457.93,519.51 L463.37,519.55 L468.80,519.59 L474.24,519.62 L479.68,519.64 L485.11,519.65 L490.55,519.64 L495.98,519.59 L501.42,518.74 L506.86,511.38 L512.29,496.30 L517.73,475.89 L523.16,456.12 L528.60,431.74 L534.04,399.89 L539.47,369.08 L544.91,346.80 L550.34,334.28 L555.78,331.12 L561.22,330.80 L566.65,330.75 L572.09,330.77 L577.52,330.81 L582.96,330.77 L588.40,330.80 L593.83,331.15 L599.27,335.30 L604.70,336.12 L610.14,333.71 L615.58,332.98 L621.01,333.10 L626.45,333.95 L631.88,335.17 L637.32,336.81 L642.76,339.31 L648.19,341.02 L653.63,341.37 L659.06,341.23 L664.50,341.00" fill="none" stroke="#e8202a" stroke-width="1.0" stroke-linejoin="round"/>
<path d="M398.14,509.60 L403.57,509.22 L409.01,508.98 L414.44,509.05 L419.88,509.39 L425.32,509.80 L430.75,510.33 L436.19,511.07 L441.62,512.08 L447.06,513.17 L452.50,514.12 L457.93,514.88 L463.37,515.55 L468.80,516.24 L474.24,516.80 L479.68,517.08 L485.11,517.18 L490.55,517.20 L495.98,517.10 L501.42,516.97 L506.86,517.39 L512.29,517.99 L517.73,515.24 L523.16,507.35 L528.60,494.37 L534.04,472.52 L539.47,442.18 L544.91,411.09 L550.34,376.91 L555.78,351.79 L561.22,335.91 L566.65,331.22 L572.09,332.58 L577.52,334.29 L582.96,336.30 L588.40,339.16 L593.83,341.33 L599.27,342.59 L604.70,339.99 L610.14,335.12 L615.58,331.56 L621.01,337.69 L626.45,346.78 L631.88,356.83 L637.32,367.93 L642.76,380.65 L648.19,381.60 L653.63,391.73 L659.06,404.86 L664.50,405.10" fill="none" stroke="#2a2aa0" stroke-width="1.0" stroke-linejoin="round"/>
<path d="M398.14,515.90 L403.57,516.34 L409.01,516.74 L414.44,517.02 L419.88,517.24 L425.32,517.41 L430.75,517.54 L436.19,517.65 L441.62,517.75 L447.06,517.83 L452.50,517.91 L457.93,517.98 L463.37,518.04 L468.80,518.09 L474.24,518.13 L479.68,518.15 L485.11,518.17 L490.55,518.18 L495.98,518.21 L501.42,518.24 L506.86,518.28 L512.29,518.18 L517.73,517.00 L523.16,512.28 L528.60,501.31 L534.04,484.95 L539.47,457.04 L544.91,427.19 L550.34,398.72 L555.78,370.97 L561.22,350.61 L566.65,336.01 L572.09,331.25 L577.52,333.79 L582.96,334.89 L588.40,336.32 L593.83,339.09 L599.27,341.24 L604.70,342.45 L610.14,343.07 L615.58,343.57 L621.01,344.39 L626.45,344.99 L631.88,344.94 L637.32,342.78 L642.76,337.80 L648.19,341.39 L653.63,338.31 L659.06,337.54 L664.50,337.80" fill="none" stroke="#2a2aa0" stroke-width="1.0" stroke-linejoin="round"/>
<path d="M398.14,515.90 L403.57,516.34 L409.01,516.74 L414.44,517.02 L419.88,517.24 L425.32,517.41 L430.75,517.54 L436.19,517.65 L441.62,517.75 L447.06,517.83 L452.50,517.91 L457.93,517.98 L463.37,518.04 L468.80,518.09 L474.24,518.13 L479.68,518.16 L485.11,518.18 L490.55,518.19 L495.98,518.20 L501.42,518.24 L506.86,518.28 L512.29,518.27 L517.73,518.07 L523.16,516.37 L528.60,511.21 L534.04,500.41 L539.47,481.61 L544.91,449.22 L550.34,415.29 L555.78,392.02 L561.22,377.36 L566.65,363.58 L572.09,359.40 L577.52,356.25 L582.96,355.20 L588.40,354.09 L593.83,353.00 L599.27,350.62 L604.70,347.88 L610.14,346.14 L615.58,344.39 L621.01,342.37 L626.45,340.11 L631.88,337.26 L637.32,334.25 L642.76,331.69 L648.19,331.27 L653.63,331.27 L659.06,331.38 L664.50,331.50" fill="none" stroke="#2a2aa0" stroke-width="1.0" stroke-linejoin="round"/>
<path d="M398.14,508.60 L403.57,508.23 L409.01,507.97 L414.44,507.90 L419.88,508.16 L425.32,508.55 L430.75,509.09 L436.19,509.92 L441.62,510.96 L447.06,511.79 L452.50,512.27 L457.93,512.60 L463.37,512.98 L468.80,513.42 L474.24,513.76 L479.68,513.69 L485.11,513.25 L490.55,512.91 L495.98,512.78 L501.42,513.58 L506.86,515.03 L512.29,516.75 L517.73,518.33 L523.16,518.99 L528.60,518.07 L534.04,516.05 L539.47,512.37 L544.91,499.42 L550.34,476.85 L555.78,449.07 L561.22,419.43 L566.65,385.23 L572.09,358.22 L577.52,343.81 L582.96,334.51 L588.40,330.95 L593.83,330.76 L599.27,330.98 L604.70,331.08 L610.14,331.16 L615.58,331.29 L621.01,331.58 L626.45,332.14 L631.88,332.83 L637.32,333.36 L642.76,333.55 L648.19,333.51 L653.63,333.37 L659.06,333.18 L664.50,333.00" fill="none" stroke="#3a7a55" stroke-width="1.0" stroke-linejoin="round"/>
<path d="M398.14,516.80 L403.57,516.97 L409.01,517.15 L414.44,517.33 L419.88,517.50 L425.32,517.66 L430.75,517.82 L436.19,517.98 L441.62,518.12 L447.06,518.24 L452.50,518.35 L457.93,518.44 L463.37,518.52 L468.80,518.59 L474.24,518.64 L479.68,518.69 L485.11,518.72 L490.55,518.76 L495.98,518.78 L501.42,518.80 L506.86,518.81 L512.29,518.81 L517.73,518.80 L523.16,518.71 L528.60,518.30 L534.04,516.85 L539.47,514.12 L544.91,503.96 L550.34,484.84 L555.78,457.33 L561.22,428.44 L566.65,395.65 L572.09,362.82 L577.52,345.25 L582.96,335.11 L588.40,331.11 L593.83,333.75 L599.27,336.16 L604.70,335.91 L610.14,340.62 L615.58,345.88 L621.01,352.74 L626.45,364.05 L631.88,370.88 L637.32,375.16 L642.76,375.27 L648.19,383.89 L653.63,361.00 L659.06,377.81 L664.50,394.80" fill="none" stroke="#3a7a55" stroke-width="1.0" stroke-linejoin="round"/>
<path d="M398.14,516.80 L403.57,516.97 L409.01,517.15 L414.44,517.33 L419.88,517.50 L425.32,517.66 L430.75,517.82 L436.19,517.98 L441.62,518.12 L447.06,518.24 L452.50,518.35 L457.93,518.44 L463.37,518.52 L468.80,518.59 L474.24,518.64 L479.68,518.69 L485.11,518.72 L490.55,518.76 L495.98,518.78 L501.42,518.80 L506.86,518.81 L512.29,518.81 L517.73,518.80 L523.16,518.80 L528.60,518.47 L534.04,517.47 L539.47,514.90 L544.91,507.91 L550.34,491.80 L555.78,465.40 L561.22,437.17 L566.65,406.36 L572.09,368.65 L577.52,346.88 L582.96,335.80 L588.40,331.29 L593.83,331.21 L599.27,332.82 L604.70,333.95 L610.14,334.98 L615.58,336.14 L621.01,337.52 L626.45,339.02 L631.88,340.52 L637.32,342.06 L642.76,343.59 L648.19,345.02 L653.63,346.26 L659.06,347.40 L664.50,348.50" fill="none" stroke="#3a7a55" stroke-width="1.0" stroke-linejoin="round"/>
<path d="M398.14,510.70 L403.57,511.14 L409.01,511.54 L414.44,511.79 L419.88,511.97 L425.32,512.22 L430.75,512.66 L436.19,513.14 L441.62,513.49 L447.06,513.72 L452.50,513.91 L457.93,514.11 L463.37,514.36 L468.80,514.65 L474.24,514.94 L479.68,515.19 L485.11,515.37 L490.55,515.52 L495.98,515.67 L501.42,515.84 L506.86,515.93 L512.29,516.17 L517.73,517.11 L523.16,518.88 L528.60,520.41 L534.04,520.68 L539.47,520.20 L544.91,519.27 L550.34,517.00 L555.78,511.07 L561.22,501.43 L566.65,483.73 L572.09,459.03 L577.52,425.91 L582.96,394.19 L588.40,372.96 L593.83,356.11 L599.27,342.24 L604.70,334.32 L610.14,331.45 L615.58,330.90 L621.01,330.90 L626.45,330.89 L631.88,330.89 L637.32,330.89 L642.76,330.89 L648.19,330.90 L653.63,330.90 L659.06,330.90 L664.50,330.90" fill="none" stroke="#e0208a" stroke-width="1.0" stroke-linejoin="round"/>
<path d="M398.14,520.60 L403.57,520.60 L409.01,520.60 L414.44,520.61 L419.88,520.61 L425.32,520.61 L430.75,520.61 L436.19,520.61 L441.62,520.61 L447.06,520.61 L452.50,520.61 L457.93,520.61 L463.37,520.61 L468.80,520.61 L474.24,520.61 L479.68,520.60 L485.11,520.59 L490.55,520.58 L495.98,520.56 L501.42,520.54 L506.86,520.52 L512.29,520.50 L517.73,520.48 L523.16,520.45 L528.60,520.42 L534.04,520.40 L539.47,520.40 L544.91,520.15 L550.34,519.15 L555.78,516.70 L561.22,510.43 L566.65,500.36 L572.09,481.87 L577.52,456.80 L582.96,422.73 L588.40,391.87 L593.83,367.16 L599.27,347.35 L604.70,335.97 L610.14,331.90 L615.58,331.02 L621.01,331.37 L626.45,331.45 L631.88,330.93 L637.32,330.64 L642.76,332.38 L648.19,338.21 L653.63,345.34 L659.06,353.12 L664.50,352.00" fill="none" stroke="#e0208a" stroke-width="1.0" stroke-linejoin="round"/>
<path d="M398.14,520.40 L403.57,520.40 L409.01,520.40 L414.44,520.40 L419.88,520.40 L425.32,520.40 L430.75,520.40 L436.19,520.40 L441.62,520.40 L447.06,520.40 L452.50,520.40 L457.93,520.40 L463.37,520.40 L468.80,520.40 L474.24,520.40 L479.68,520.40 L485.11,520.40 L490.55,520.40 L495.98,520.40 L501.42,520.40 L506.86,520.41 L512.29,520.41 L517.73,520.41 L523.16,520.41 L528.60,520.41 L534.04,520.40 L539.47,520.41 L544.91,520.24 L550.34,519.36 L555.78,517.24 L561.22,511.60 L566.65,502.28 L572.09,485.27 L577.52,460.87 L582.96,428.20 L588.40,404.33 L593.83,383.51 L599.27,366.74 L604.70,356.96 L610.14,348.80 L615.58,341.80 L621.01,336.00 L626.45,332.66 L631.88,331.30 L637.32,331.04 L642.76,330.97 L648.19,330.96 L653.63,330.96 L659.06,330.98 L664.50,331.00" fill="none" stroke="#e0208a" stroke-width="1.0" stroke-linejoin="round"/>
<rect x="392.6" y="312.2" width="271.9" height="214.00000000000006" fill="none" stroke="#3a3a3a" stroke-width="1.1"/>
</svg></body></html>
